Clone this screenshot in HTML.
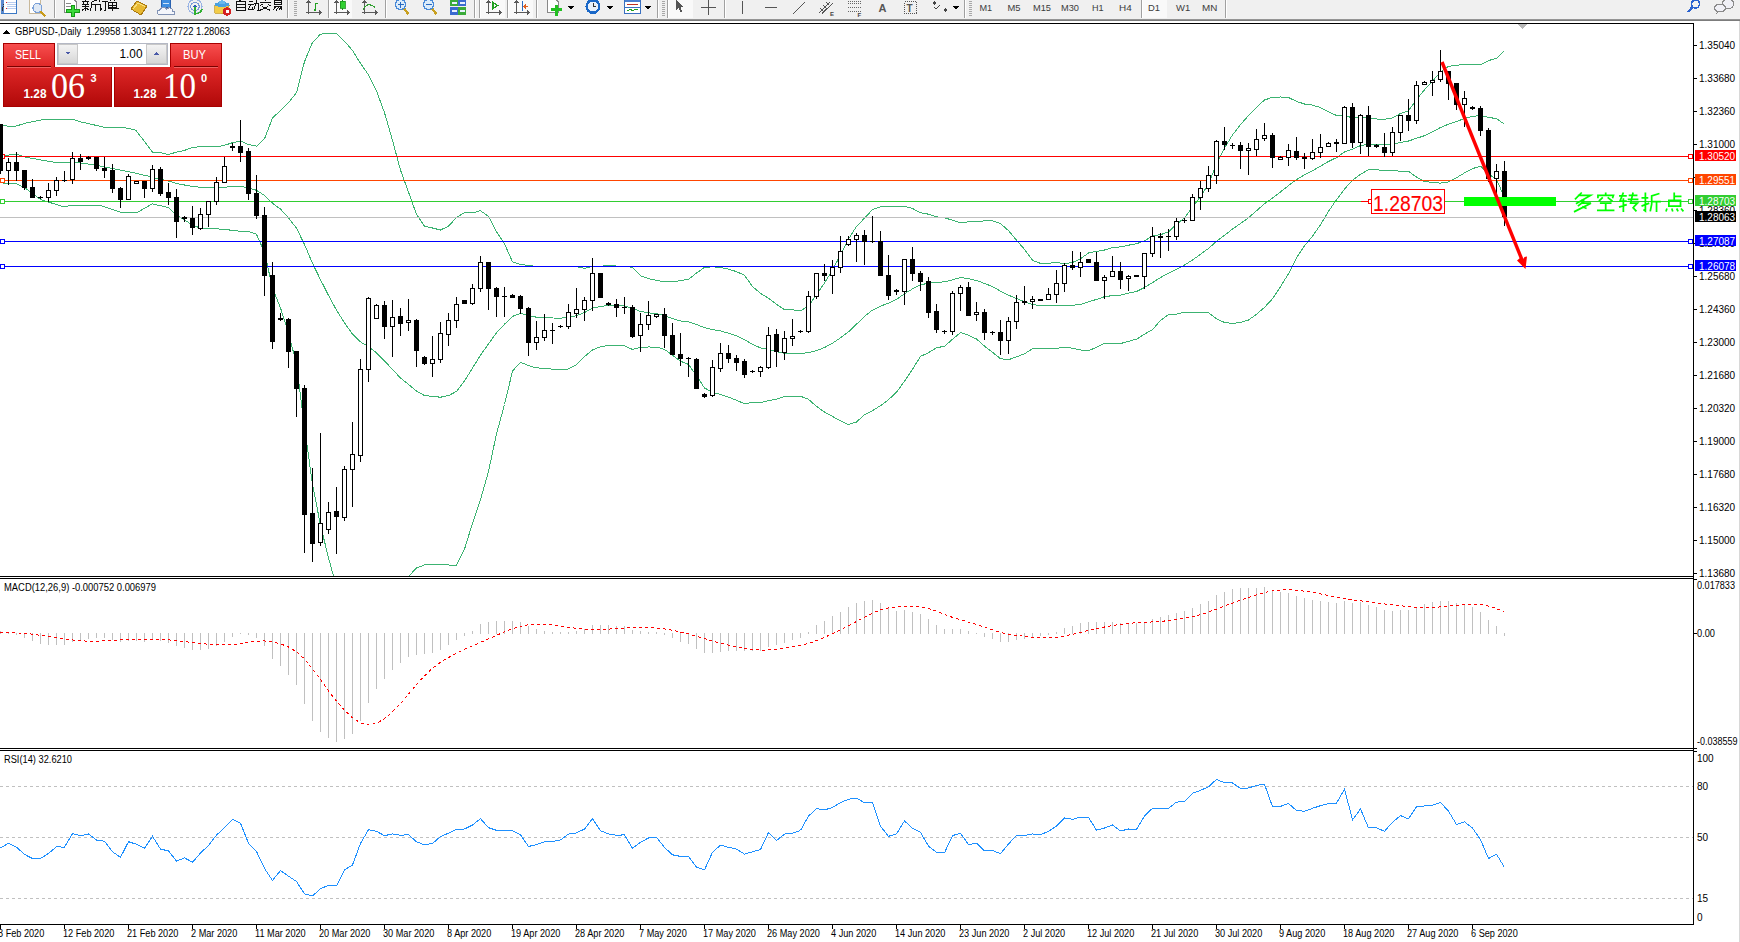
<!DOCTYPE html>
<html><head><meta charset="utf-8">
<style>
html,body{margin:0;padding:0;}
body{width:1740px;height:942px;overflow:hidden;position:relative;background:#fff;font-family:"Liberation Sans",sans-serif;}
.abs{position:absolute;}
svg{position:absolute;left:0;top:0;}
.t{font-family:"Liberation Sans",sans-serif;font-size:10px;fill:#000;}
</style></head><body>
<div class="abs" style="left:0;top:0;width:1740px;height:19px;background:#f0f0f0"></div>
<div class="abs" style="left:0;top:19px;width:1740px;height:2px;background:linear-gradient(#a0a0a0,#707070)"></div>
<div class="abs" style="left:1739px;top:21px;width:1px;height:921px;background:#d8d8d8"></div>
<svg width="1740" height="942" viewBox="0 0 1740 942" shape-rendering="crispEdges">
<line x1="0" y1="23.5" x2="1694" y2="23.5" stroke="#000"/>
<line x1="1693.5" y1="23" x2="1693.5" y2="925" stroke="#000"/>
<line x1="0" y1="576.5" x2="1694" y2="576.5" stroke="#000"/>
<line x1="0" y1="578.5" x2="1694" y2="578.5" stroke="#000"/>
<line x1="0" y1="748.5" x2="1694" y2="748.5" stroke="#000"/>
<line x1="0" y1="750.5" x2="1694" y2="750.5" stroke="#000"/>
<line x1="0" y1="924.5" x2="1694" y2="924.5" stroke="#000"/>
<svg x="0" y="24" width="1693" height="552" viewBox="0 24 1693 552" overflow="hidden">
<polyline points="0.5,125.4 14.1,126.7 26.9,122.7 44.5,119.4 73.3,119.4 80.5,121.8 103.7,127.1 124.5,127.7 135.7,130.1 150.1,148.8 152.5,152.2 160.5,152.7 168.5,154.5 176.5,152.1 184.5,150.4 192.5,147.5 200.5,146.7 208.5,146.8 216.5,147.0 224.5,145.3 232.5,142.7 240.5,141.1 248.5,144.5 256.5,146.2 264.5,138.8 272.5,118.1 280.5,110.4 288.5,102.6 296.5,92.6 304.5,61.7 312.5,42.3 320.5,34.2 328.5,33.2 336.5,33.4 344.5,41.2 352.5,50.5 360.5,63.4 368.5,74.9 376.5,90.8 384.5,112.7 392.5,140.4 400.5,170.2 408.5,192.2 416.5,214.3 424.5,226.1 432.5,228.0 440.5,230.0 448.5,226.2 456.5,217.4 464.5,212.5 472.5,212.9 480.5,210.7 488.5,216.4 496.5,231.7 504.5,243.9 512.5,261.8 520.5,264.4 528.5,265.5 536.5,266.5 544.5,266.5 552.5,266.8 560.5,266.9 568.5,266.4 576.5,266.6 584.5,268.3 592.5,266.4 600.5,266.1 608.5,265.8 616.5,266.0 624.5,266.2 632.5,267.3 640.5,275.7 648.5,278.6 656.5,280.3 664.5,281.9 672.5,281.8 680.5,280.7 688.5,279.2 696.5,273.1 704.5,267.4 712.5,266.8 720.5,267.4 728.5,269.2 736.5,271.6 744.5,275.3 752.5,286.5 760.5,293.4 768.5,298.2 776.5,304.2 784.5,309.8 792.5,309.8 800.5,310.9 808.5,305.9 816.5,294.7 824.5,283.0 832.5,270.0 840.5,254.8 848.5,239.1 856.5,226.3 864.5,218.2 872.5,209.6 880.5,206.8 888.5,206.5 896.5,206.7 904.5,206.2 912.5,208.5 920.5,212.7 928.5,214.2 936.5,216.9 944.5,217.7 952.5,220.3 960.5,222.8 968.5,221.8 976.5,222.0 984.5,220.7 992.5,220.9 1000.5,223.5 1008.5,230.7 1016.5,240.2 1024.5,249.4 1032.5,260.3 1040.5,263.4 1048.5,263.3 1056.5,262.3 1064.5,263.8 1072.5,262.5 1080.5,258.7 1088.5,253.0 1096.5,251.4 1104.5,250.0 1112.5,247.6 1120.5,246.9 1128.5,245.2 1136.5,243.7 1144.5,240.9 1152.5,235.8 1160.5,234.7 1168.5,231.8 1176.5,224.3 1184.5,218.0 1192.5,207.1 1200.5,196.4 1208.5,184.0 1216.5,163.8 1224.5,148.1 1232.5,134.9 1240.5,124.7 1248.5,115.6 1256.5,107.3 1264.5,100.0 1272.5,97.3 1280.5,97.0 1288.5,97.5 1296.5,101.4 1304.5,104.0 1312.5,105.1 1320.5,107.6 1328.5,111.7 1336.5,115.5 1344.5,114.8 1352.5,118.3 1360.5,116.8 1368.5,118.7 1376.5,119.0 1384.5,119.2 1392.5,118.0 1400.5,113.5 1408.5,110.8 1416.5,99.5 1424.5,89.8 1432.5,81.1 1440.5,71.9 1448.5,66.4 1456.5,65.3 1464.5,64.2 1472.5,64.1 1480.5,64.8 1488.5,60.6 1496.5,58.3 1504.5,50.6" fill="none" stroke="#3cb371" stroke-width="1" shape-rendering="crispEdges"/>
<polyline points="0.5,156.1 16.5,154.1 26.9,157.5 54.1,162.2 73.3,162.2 94.1,164.8 114.1,168.9 134.1,172.9 150.1,176.5 152.5,178.1 160.5,179.2 168.5,181.0 176.5,183.5 184.5,185.0 192.5,186.5 200.5,187.3 208.5,187.9 216.5,188.0 224.5,187.2 232.5,186.6 240.5,186.2 248.5,187.9 256.5,190.3 264.5,195.5 272.5,203.2 280.5,209.1 288.5,217.9 296.5,228.2 304.5,244.5 312.5,263.2 320.5,279.7 328.5,295.4 336.5,310.2 344.5,322.8 352.5,334.1 360.5,341.9 368.5,346.7 376.5,352.9 384.5,360.9 392.5,369.5 400.5,378.0 408.5,384.4 416.5,391.1 424.5,395.5 432.5,396.4 440.5,397.2 448.5,395.6 456.5,391.4 464.5,380.9 472.5,368.1 480.5,355.1 488.5,343.9 496.5,332.8 504.5,324.2 512.5,316.4 520.5,313.4 528.5,315.6 536.5,317.2 544.5,317.4 552.5,318.0 560.5,318.1 568.5,317.7 576.5,315.7 584.5,312.5 592.5,308.2 600.5,306.4 608.5,305.6 616.5,305.8 624.5,306.0 632.5,308.4 640.5,311.5 648.5,312.8 656.5,313.7 664.5,315.7 672.5,318.5 680.5,321.0 688.5,321.8 696.5,324.4 704.5,327.7 712.5,329.5 720.5,330.9 728.5,333.2 736.5,335.9 744.5,339.6 752.5,344.4 760.5,347.9 768.5,349.5 776.5,351.7 784.5,353.2 792.5,353.2 800.5,353.5 808.5,352.6 816.5,350.6 824.5,347.5 832.5,343.2 840.5,337.8 848.5,331.8 856.5,324.2 864.5,316.4 872.5,310.1 880.5,306.2 888.5,303.1 896.5,299.5 904.5,293.7 912.5,288.9 920.5,284.6 928.5,283.4 936.5,282.3 944.5,281.9 952.5,279.8 960.5,277.6 968.5,278.6 976.5,280.5 984.5,283.4 992.5,286.6 1000.5,291.1 1008.5,295.2 1016.5,298.5 1024.5,301.6 1032.5,304.5 1040.5,305.7 1048.5,305.7 1056.5,305.3 1064.5,305.6 1072.5,305.3 1080.5,304.4 1088.5,301.9 1096.5,299.4 1104.5,296.7 1112.5,295.6 1120.5,295.2 1128.5,293.2 1136.5,291.5 1144.5,287.5 1152.5,282.7 1160.5,277.5 1168.5,273.3 1176.5,269.2 1184.5,265.1 1192.5,260.0 1200.5,254.3 1208.5,248.4 1216.5,241.3 1224.5,235.3 1232.5,229.1 1240.5,223.5 1248.5,217.8 1256.5,210.8 1264.5,203.7 1272.5,198.0 1280.5,191.9 1288.5,185.6 1296.5,179.6 1304.5,174.9 1312.5,170.7 1320.5,166.2 1328.5,161.5 1336.5,157.6 1344.5,152.0 1352.5,149.2 1360.5,145.6 1368.5,144.1 1376.5,144.4 1384.5,144.8 1392.5,144.2 1400.5,142.4 1408.5,141.0 1416.5,138.3 1424.5,135.7 1432.5,131.8 1440.5,127.5 1448.5,124.2 1456.5,121.5 1464.5,118.5 1472.5,116.4 1480.5,115.5 1488.5,117.3 1496.5,118.7 1504.5,124.2" fill="none" stroke="#3cb371" stroke-width="1" shape-rendering="crispEdges"/>
<polyline points="0.5,182.9 16.5,183.6 24.5,187.6 40.5,199.6 62.1,206.3 76.5,205.6 100.5,205.6 120.5,212.3 136.5,213.0 150.1,205.0 152.5,203.9 160.5,205.7 168.5,207.5 176.5,215.0 184.5,219.7 192.5,225.5 200.5,227.9 208.5,228.9 216.5,228.9 224.5,229.2 232.5,230.5 240.5,231.2 248.5,231.3 256.5,234.3 264.5,252.2 272.5,288.3 280.5,307.9 288.5,333.2 296.5,363.9 304.5,427.4 312.5,484.2 320.5,525.2 328.5,557.7 336.5,587.0 344.5,604.5 352.5,617.8 360.5,620.4 368.5,618.6 376.5,615.0 384.5,609.1 392.5,598.5 400.5,585.9 408.5,576.5 416.5,568.0 424.5,564.9 432.5,564.8 440.5,564.3 448.5,565.0 456.5,565.4 464.5,549.2 472.5,523.3 480.5,499.4 488.5,471.4 496.5,433.9 504.5,404.5 512.5,371.0 520.5,362.3 528.5,365.6 536.5,367.9 544.5,368.3 552.5,369.2 560.5,369.4 568.5,369.0 576.5,364.8 584.5,356.7 592.5,349.9 600.5,346.7 608.5,345.4 616.5,345.6 624.5,345.8 632.5,349.5 640.5,347.2 648.5,347.0 656.5,347.1 664.5,349.4 672.5,355.2 680.5,361.2 688.5,364.4 696.5,375.7 704.5,388.0 712.5,392.3 720.5,394.4 728.5,397.2 736.5,400.2 744.5,403.8 752.5,402.4 760.5,402.5 768.5,400.7 776.5,399.2 784.5,396.6 792.5,396.6 800.5,396.2 808.5,399.3 816.5,406.4 824.5,412.1 832.5,416.4 840.5,420.9 848.5,424.6 856.5,422.0 864.5,414.6 872.5,410.6 880.5,405.7 888.5,399.7 896.5,392.2 904.5,381.2 912.5,369.2 920.5,356.4 928.5,352.7 936.5,347.8 944.5,346.2 952.5,339.3 960.5,332.5 968.5,335.3 976.5,339.0 984.5,346.1 992.5,352.3 1000.5,358.7 1008.5,359.7 1016.5,356.9 1024.5,353.8 1032.5,348.7 1040.5,348.1 1048.5,348.1 1056.5,348.3 1064.5,347.4 1072.5,348.1 1080.5,350.0 1088.5,350.7 1096.5,347.4 1104.5,343.4 1112.5,343.6 1120.5,343.6 1128.5,341.3 1136.5,339.2 1144.5,334.1 1152.5,329.6 1160.5,320.4 1168.5,314.7 1176.5,314.2 1184.5,312.2 1192.5,312.8 1200.5,312.3 1208.5,312.8 1216.5,318.8 1224.5,322.5 1232.5,323.4 1240.5,322.4 1248.5,320.1 1256.5,314.2 1264.5,307.4 1272.5,298.7 1280.5,286.7 1288.5,273.7 1296.5,257.8 1304.5,245.8 1312.5,236.2 1320.5,224.8 1328.5,211.4 1336.5,199.7 1344.5,189.1 1352.5,180.2 1360.5,174.4 1368.5,169.6 1376.5,169.8 1384.5,170.5 1392.5,170.4 1400.5,171.3 1408.5,171.3 1416.5,177.1 1424.5,181.5 1432.5,182.4 1440.5,183.1 1448.5,181.9 1456.5,177.7 1464.5,172.9 1472.5,168.6 1480.5,166.2 1488.5,174.0 1496.5,179.1 1504.5,197.9" fill="none" stroke="#3cb371" stroke-width="1" shape-rendering="crispEdges"/>
<line x1="0" y1="217.5" x2="1693" y2="217.5" stroke="#c0c0c0" stroke-width="1" />
<line x1="0" y1="156.5" x2="1693" y2="156.5" stroke="#ff0000" stroke-width="1" />
<rect x="0.5" y="154.5" width="4" height="4" fill="#fff" stroke="#ff0000" stroke-width="1"/>
<rect x="1688.5" y="154.5" width="4" height="4" fill="#fff" stroke="#ff0000" stroke-width="1"/>
<line x1="0" y1="180.5" x2="1693" y2="180.5" stroke="#ff4500" stroke-width="1" />
<rect x="0.5" y="178.5" width="4" height="4" fill="#fff" stroke="#ff4500" stroke-width="1"/>
<rect x="1688.5" y="178.5" width="4" height="4" fill="#fff" stroke="#ff4500" stroke-width="1"/>
<line x1="0" y1="201.5" x2="1693" y2="201.5" stroke="#32cd32" stroke-width="1" />
<rect x="0.5" y="199.5" width="4" height="4" fill="#fff" stroke="#32cd32" stroke-width="1"/>
<rect x="1688.5" y="199.5" width="4" height="4" fill="#fff" stroke="#32cd32" stroke-width="1"/>
<line x1="0" y1="241.5" x2="1693" y2="241.5" stroke="#0000ff" stroke-width="1" />
<rect x="0.5" y="239.5" width="4" height="4" fill="#fff" stroke="#0000ff" stroke-width="1"/>
<rect x="1688.5" y="239.5" width="4" height="4" fill="#fff" stroke="#0000ff" stroke-width="1"/>
<line x1="0" y1="266.5" x2="1693" y2="266.5" stroke="#0000ff" stroke-width="1" />
<rect x="0.5" y="264.5" width="4" height="4" fill="#fff" stroke="#0000ff" stroke-width="1"/>
<rect x="1688.5" y="264.5" width="4" height="4" fill="#fff" stroke="#0000ff" stroke-width="1"/>
<line x1="0.5" y1="124" x2="0.5" y2="174" stroke="#000" stroke-width="1"/>
<rect x="-2" y="124" width="5" height="47" fill="#000"/>
<line x1="8.5" y1="158" x2="8.5" y2="185" stroke="#000" stroke-width="1"/>
<rect x="6.5" y="162.5" width="4" height="8" fill="#fff" stroke="#000" stroke-width="1"/>
<line x1="16.5" y1="152" x2="16.5" y2="181" stroke="#000" stroke-width="1"/>
<rect x="14" y="162" width="5" height="9" fill="#000"/>
<line x1="24.5" y1="170" x2="24.5" y2="190" stroke="#000" stroke-width="1"/>
<rect x="22" y="170" width="5" height="18" fill="#000"/>
<line x1="32.5" y1="179" x2="32.5" y2="198" stroke="#000" stroke-width="1"/>
<rect x="30" y="187" width="5" height="11" fill="#000"/>
<line x1="40.5" y1="196" x2="40.5" y2="199" stroke="#000" stroke-width="1"/>
<rect x="38" y="197" width="5" height="1" fill="#000"/>
<line x1="48.5" y1="183" x2="48.5" y2="202" stroke="#000" stroke-width="1"/>
<rect x="46.5" y="190.5" width="4" height="7" fill="#fff" stroke="#000" stroke-width="1"/>
<line x1="56.5" y1="177" x2="56.5" y2="196" stroke="#000" stroke-width="1"/>
<rect x="54.5" y="180.5" width="4" height="10" fill="#fff" stroke="#000" stroke-width="1"/>
<line x1="64.5" y1="171" x2="64.5" y2="182" stroke="#000" stroke-width="1"/>
<rect x="62" y="180" width="5" height="1" fill="#000"/>
<line x1="72.5" y1="152" x2="72.5" y2="184" stroke="#000" stroke-width="1"/>
<rect x="70.5" y="158.5" width="4" height="21" fill="#fff" stroke="#000" stroke-width="1"/>
<line x1="80.5" y1="154" x2="80.5" y2="170" stroke="#000" stroke-width="1"/>
<rect x="78" y="158" width="5" height="4" fill="#000"/>
<line x1="88.5" y1="156" x2="88.5" y2="160" stroke="#000" stroke-width="1"/>
<rect x="86" y="157" width="5" height="2" fill="#000"/>
<line x1="96.5" y1="157" x2="96.5" y2="171" stroke="#000" stroke-width="1"/>
<rect x="94" y="157" width="5" height="12" fill="#000"/>
<line x1="104.5" y1="157" x2="104.5" y2="178" stroke="#000" stroke-width="1"/>
<rect x="102" y="168" width="5" height="3" fill="#000"/>
<line x1="112.5" y1="164" x2="112.5" y2="193" stroke="#000" stroke-width="1"/>
<rect x="110" y="170" width="5" height="19" fill="#000"/>
<line x1="120.5" y1="187" x2="120.5" y2="208" stroke="#000" stroke-width="1"/>
<rect x="118" y="188" width="5" height="12" fill="#000"/>
<line x1="128.5" y1="174" x2="128.5" y2="200" stroke="#000" stroke-width="1"/>
<rect x="126.5" y="176.5" width="4" height="23" fill="#fff" stroke="#000" stroke-width="1"/>
<line x1="136.5" y1="181" x2="136.5" y2="184" stroke="#000" stroke-width="1"/>
<rect x="134.5" y="181.5" width="4" height="2" fill="#fff" stroke="#000" stroke-width="1"/>
<line x1="144.5" y1="181" x2="144.5" y2="198" stroke="#000" stroke-width="1"/>
<rect x="142" y="181" width="5" height="8" fill="#000"/>
<line x1="152.5" y1="165" x2="152.5" y2="192" stroke="#000" stroke-width="1"/>
<rect x="150.5" y="169.5" width="4" height="19" fill="#fff" stroke="#000" stroke-width="1"/>
<line x1="160.5" y1="167" x2="160.5" y2="196" stroke="#000" stroke-width="1"/>
<rect x="158" y="169" width="5" height="25" fill="#000"/>
<line x1="168.5" y1="183" x2="168.5" y2="205" stroke="#000" stroke-width="1"/>
<rect x="166" y="192" width="5" height="6" fill="#000"/>
<line x1="176.5" y1="189" x2="176.5" y2="238" stroke="#000" stroke-width="1"/>
<rect x="174" y="197" width="5" height="25" fill="#000"/>
<line x1="184.5" y1="216" x2="184.5" y2="222" stroke="#000" stroke-width="1"/>
<rect x="182.5" y="217.5" width="4" height="1" fill="#fff" stroke="#000" stroke-width="1"/>
<line x1="192.5" y1="206" x2="192.5" y2="235" stroke="#000" stroke-width="1"/>
<rect x="190" y="218" width="5" height="10" fill="#000"/>
<line x1="200.5" y1="208" x2="200.5" y2="230" stroke="#000" stroke-width="1"/>
<rect x="198.5" y="214.5" width="4" height="14" fill="#fff" stroke="#000" stroke-width="1"/>
<line x1="208.5" y1="201" x2="208.5" y2="227" stroke="#000" stroke-width="1"/>
<rect x="206.5" y="201.5" width="4" height="13" fill="#fff" stroke="#000" stroke-width="1"/>
<line x1="216.5" y1="177" x2="216.5" y2="205" stroke="#000" stroke-width="1"/>
<rect x="214.5" y="182.5" width="4" height="19" fill="#fff" stroke="#000" stroke-width="1"/>
<line x1="224.5" y1="157" x2="224.5" y2="183" stroke="#000" stroke-width="1"/>
<rect x="222.5" y="166.5" width="4" height="16" fill="#fff" stroke="#000" stroke-width="1"/>
<line x1="232.5" y1="143" x2="232.5" y2="151" stroke="#000" stroke-width="1"/>
<rect x="230.5" y="146.5" width="4" height="1" fill="#fff" stroke="#000" stroke-width="1"/>
<line x1="240.5" y1="120" x2="240.5" y2="162" stroke="#000" stroke-width="1"/>
<rect x="238" y="146" width="5" height="7" fill="#000"/>
<line x1="248.5" y1="148" x2="248.5" y2="200" stroke="#000" stroke-width="1"/>
<rect x="246" y="151" width="5" height="43" fill="#000"/>
<line x1="256.5" y1="175" x2="256.5" y2="219" stroke="#000" stroke-width="1"/>
<rect x="254" y="193" width="5" height="23" fill="#000"/>
<line x1="264.5" y1="207" x2="264.5" y2="296" stroke="#000" stroke-width="1"/>
<rect x="262" y="215" width="5" height="61" fill="#000"/>
<line x1="272.5" y1="262" x2="272.5" y2="349" stroke="#000" stroke-width="1"/>
<rect x="270" y="275" width="5" height="67" fill="#000"/>
<line x1="280.5" y1="313" x2="280.5" y2="321" stroke="#000" stroke-width="1"/>
<rect x="278.5" y="318.5" width="4" height="1" fill="#fff" stroke="#000" stroke-width="1"/>
<line x1="288.5" y1="318" x2="288.5" y2="368" stroke="#000" stroke-width="1"/>
<rect x="286" y="319" width="5" height="33" fill="#000"/>
<line x1="296.5" y1="351" x2="296.5" y2="417" stroke="#000" stroke-width="1"/>
<rect x="294" y="351" width="5" height="38" fill="#000"/>
<line x1="304.5" y1="385" x2="304.5" y2="553" stroke="#000" stroke-width="1"/>
<rect x="302" y="388" width="5" height="127" fill="#000"/>
<line x1="312.5" y1="468" x2="312.5" y2="562" stroke="#000" stroke-width="1"/>
<rect x="310" y="513" width="5" height="31" fill="#000"/>
<line x1="320.5" y1="433" x2="320.5" y2="546" stroke="#000" stroke-width="1"/>
<rect x="318.5" y="523.5" width="4" height="19" fill="#fff" stroke="#000" stroke-width="1"/>
<line x1="328.5" y1="502" x2="328.5" y2="534" stroke="#000" stroke-width="1"/>
<rect x="326.5" y="512.5" width="4" height="17" fill="#fff" stroke="#000" stroke-width="1"/>
<line x1="336.5" y1="487" x2="336.5" y2="554" stroke="#000" stroke-width="1"/>
<rect x="334" y="511" width="5" height="6" fill="#000"/>
<line x1="344.5" y1="466" x2="344.5" y2="521" stroke="#000" stroke-width="1"/>
<rect x="342.5" y="469.5" width="4" height="48" fill="#fff" stroke="#000" stroke-width="1"/>
<line x1="352.5" y1="422" x2="352.5" y2="507" stroke="#000" stroke-width="1"/>
<rect x="350.5" y="454.5" width="4" height="15" fill="#fff" stroke="#000" stroke-width="1"/>
<line x1="360.5" y1="359" x2="360.5" y2="462" stroke="#000" stroke-width="1"/>
<rect x="358.5" y="369.5" width="4" height="86" fill="#fff" stroke="#000" stroke-width="1"/>
<line x1="368.5" y1="297" x2="368.5" y2="382" stroke="#000" stroke-width="1"/>
<rect x="366.5" y="298.5" width="4" height="71" fill="#fff" stroke="#000" stroke-width="1"/>
<line x1="376.5" y1="304" x2="376.5" y2="319" stroke="#000" stroke-width="1"/>
<rect x="374.5" y="305.5" width="4" height="13" fill="#fff" stroke="#000" stroke-width="1"/>
<line x1="384.5" y1="301" x2="384.5" y2="339" stroke="#000" stroke-width="1"/>
<rect x="382" y="305" width="5" height="22" fill="#000"/>
<line x1="392.5" y1="300" x2="392.5" y2="357" stroke="#000" stroke-width="1"/>
<rect x="390.5" y="317.5" width="4" height="9" fill="#fff" stroke="#000" stroke-width="1"/>
<line x1="400.5" y1="308" x2="400.5" y2="336" stroke="#000" stroke-width="1"/>
<rect x="398" y="316" width="5" height="8" fill="#000"/>
<line x1="408.5" y1="299" x2="408.5" y2="331" stroke="#000" stroke-width="1"/>
<rect x="406.5" y="320.5" width="4" height="2" fill="#fff" stroke="#000" stroke-width="1"/>
<line x1="416.5" y1="319" x2="416.5" y2="367" stroke="#000" stroke-width="1"/>
<rect x="414" y="320" width="5" height="31" fill="#000"/>
<line x1="424.5" y1="356" x2="424.5" y2="365" stroke="#000" stroke-width="1"/>
<rect x="422" y="357" width="5" height="7" fill="#000"/>
<line x1="432.5" y1="336" x2="432.5" y2="377" stroke="#000" stroke-width="1"/>
<rect x="430.5" y="359.5" width="4" height="4" fill="#fff" stroke="#000" stroke-width="1"/>
<line x1="440.5" y1="322" x2="440.5" y2="363" stroke="#000" stroke-width="1"/>
<rect x="438.5" y="333.5" width="4" height="26" fill="#fff" stroke="#000" stroke-width="1"/>
<line x1="448.5" y1="313" x2="448.5" y2="346" stroke="#000" stroke-width="1"/>
<rect x="446.5" y="320.5" width="4" height="14" fill="#fff" stroke="#000" stroke-width="1"/>
<line x1="456.5" y1="297" x2="456.5" y2="328" stroke="#000" stroke-width="1"/>
<rect x="454.5" y="304.5" width="4" height="16" fill="#fff" stroke="#000" stroke-width="1"/>
<line x1="464.5" y1="300" x2="464.5" y2="304" stroke="#000" stroke-width="1"/>
<rect x="462" y="300" width="5" height="4" fill="#000"/>
<line x1="472.5" y1="284" x2="472.5" y2="305" stroke="#000" stroke-width="1"/>
<rect x="470.5" y="288.5" width="4" height="15" fill="#fff" stroke="#000" stroke-width="1"/>
<line x1="480.5" y1="256" x2="480.5" y2="292" stroke="#000" stroke-width="1"/>
<rect x="478.5" y="262.5" width="4" height="26" fill="#fff" stroke="#000" stroke-width="1"/>
<line x1="488.5" y1="262" x2="488.5" y2="310" stroke="#000" stroke-width="1"/>
<rect x="486" y="262" width="5" height="27" fill="#000"/>
<line x1="496.5" y1="287" x2="496.5" y2="317" stroke="#000" stroke-width="1"/>
<rect x="494" y="288" width="5" height="9" fill="#000"/>
<line x1="504.5" y1="287" x2="504.5" y2="317" stroke="#000" stroke-width="1"/>
<rect x="502" y="296" width="5" height="1" fill="#000"/>
<line x1="512.5" y1="294" x2="512.5" y2="298" stroke="#000" stroke-width="1"/>
<rect x="510" y="295" width="5" height="3" fill="#000"/>
<line x1="520.5" y1="295" x2="520.5" y2="314" stroke="#000" stroke-width="1"/>
<rect x="518" y="296" width="5" height="13" fill="#000"/>
<line x1="528.5" y1="307" x2="528.5" y2="356" stroke="#000" stroke-width="1"/>
<rect x="526" y="308" width="5" height="35" fill="#000"/>
<line x1="536.5" y1="321" x2="536.5" y2="350" stroke="#000" stroke-width="1"/>
<rect x="534.5" y="337.5" width="4" height="5" fill="#fff" stroke="#000" stroke-width="1"/>
<line x1="544.5" y1="314" x2="544.5" y2="341" stroke="#000" stroke-width="1"/>
<rect x="542.5" y="330.5" width="4" height="7" fill="#fff" stroke="#000" stroke-width="1"/>
<line x1="552.5" y1="323" x2="552.5" y2="344" stroke="#000" stroke-width="1"/>
<rect x="550" y="330" width="5" height="1" fill="#000"/>
<line x1="560.5" y1="325" x2="560.5" y2="328" stroke="#000" stroke-width="1"/>
<rect x="558" y="326" width="5" height="1" fill="#000"/>
<line x1="568.5" y1="304" x2="568.5" y2="329" stroke="#000" stroke-width="1"/>
<rect x="566.5" y="312.5" width="4" height="14" fill="#fff" stroke="#000" stroke-width="1"/>
<line x1="576.5" y1="288" x2="576.5" y2="318" stroke="#000" stroke-width="1"/>
<rect x="574.5" y="309.5" width="4" height="4" fill="#fff" stroke="#000" stroke-width="1"/>
<line x1="584.5" y1="297" x2="584.5" y2="321" stroke="#000" stroke-width="1"/>
<rect x="582.5" y="300.5" width="4" height="9" fill="#fff" stroke="#000" stroke-width="1"/>
<line x1="592.5" y1="258" x2="592.5" y2="311" stroke="#000" stroke-width="1"/>
<rect x="590.5" y="273.5" width="4" height="27" fill="#fff" stroke="#000" stroke-width="1"/>
<line x1="600.5" y1="273" x2="600.5" y2="298" stroke="#000" stroke-width="1"/>
<rect x="598" y="273" width="5" height="25" fill="#000"/>
<line x1="608.5" y1="302" x2="608.5" y2="306" stroke="#000" stroke-width="1"/>
<rect x="606" y="303" width="5" height="2" fill="#000"/>
<line x1="616.5" y1="299" x2="616.5" y2="317" stroke="#000" stroke-width="1"/>
<rect x="614" y="304" width="5" height="4" fill="#000"/>
<line x1="624.5" y1="297" x2="624.5" y2="314" stroke="#000" stroke-width="1"/>
<rect x="622" y="307" width="5" height="1" fill="#000"/>
<line x1="632.5" y1="305" x2="632.5" y2="338" stroke="#000" stroke-width="1"/>
<rect x="630" y="307" width="5" height="30" fill="#000"/>
<line x1="640.5" y1="313" x2="640.5" y2="352" stroke="#000" stroke-width="1"/>
<rect x="638.5" y="324.5" width="4" height="11" fill="#fff" stroke="#000" stroke-width="1"/>
<line x1="648.5" y1="301" x2="648.5" y2="330" stroke="#000" stroke-width="1"/>
<rect x="646.5" y="315.5" width="4" height="9" fill="#fff" stroke="#000" stroke-width="1"/>
<line x1="656.5" y1="314" x2="656.5" y2="318" stroke="#000" stroke-width="1"/>
<rect x="654.5" y="314.5" width="4" height="2" fill="#fff" stroke="#000" stroke-width="1"/>
<line x1="664.5" y1="308" x2="664.5" y2="348" stroke="#000" stroke-width="1"/>
<rect x="662" y="314" width="5" height="22" fill="#000"/>
<line x1="672.5" y1="323" x2="672.5" y2="355" stroke="#000" stroke-width="1"/>
<rect x="670" y="335" width="5" height="20" fill="#000"/>
<line x1="680.5" y1="333" x2="680.5" y2="366" stroke="#000" stroke-width="1"/>
<rect x="678" y="354" width="5" height="5" fill="#000"/>
<line x1="688.5" y1="357" x2="688.5" y2="377" stroke="#000" stroke-width="1"/>
<rect x="686" y="358" width="5" height="1" fill="#000"/>
<line x1="696.5" y1="358" x2="696.5" y2="389" stroke="#000" stroke-width="1"/>
<rect x="694" y="359" width="5" height="30" fill="#000"/>
<line x1="704.5" y1="393" x2="704.5" y2="398" stroke="#000" stroke-width="1"/>
<rect x="702" y="394" width="5" height="3" fill="#000"/>
<line x1="712.5" y1="360" x2="712.5" y2="397" stroke="#000" stroke-width="1"/>
<rect x="710.5" y="367.5" width="4" height="28" fill="#fff" stroke="#000" stroke-width="1"/>
<line x1="720.5" y1="343" x2="720.5" y2="372" stroke="#000" stroke-width="1"/>
<rect x="718.5" y="353.5" width="4" height="15" fill="#fff" stroke="#000" stroke-width="1"/>
<line x1="728.5" y1="345" x2="728.5" y2="363" stroke="#000" stroke-width="1"/>
<rect x="726" y="353" width="5" height="6" fill="#000"/>
<line x1="736.5" y1="355" x2="736.5" y2="371" stroke="#000" stroke-width="1"/>
<rect x="734" y="358" width="5" height="5" fill="#000"/>
<line x1="744.5" y1="359" x2="744.5" y2="378" stroke="#000" stroke-width="1"/>
<rect x="742" y="361" width="5" height="14" fill="#000"/>
<line x1="752.5" y1="370" x2="752.5" y2="373" stroke="#000" stroke-width="1"/>
<rect x="750" y="371" width="5" height="1" fill="#000"/>
<line x1="760.5" y1="366" x2="760.5" y2="377" stroke="#000" stroke-width="1"/>
<rect x="758.5" y="367.5" width="4" height="4" fill="#fff" stroke="#000" stroke-width="1"/>
<line x1="768.5" y1="327" x2="768.5" y2="369" stroke="#000" stroke-width="1"/>
<rect x="766.5" y="335.5" width="4" height="32" fill="#fff" stroke="#000" stroke-width="1"/>
<line x1="776.5" y1="329" x2="776.5" y2="367" stroke="#000" stroke-width="1"/>
<rect x="774" y="334" width="5" height="18" fill="#000"/>
<line x1="784.5" y1="331" x2="784.5" y2="360" stroke="#000" stroke-width="1"/>
<rect x="782.5" y="338.5" width="4" height="14" fill="#fff" stroke="#000" stroke-width="1"/>
<line x1="792.5" y1="319" x2="792.5" y2="346" stroke="#000" stroke-width="1"/>
<rect x="790.5" y="336.5" width="4" height="2" fill="#fff" stroke="#000" stroke-width="1"/>
<line x1="800.5" y1="330" x2="800.5" y2="333" stroke="#000" stroke-width="1"/>
<rect x="798" y="331" width="5" height="1" fill="#000"/>
<line x1="808.5" y1="291" x2="808.5" y2="333" stroke="#000" stroke-width="1"/>
<rect x="806.5" y="296.5" width="4" height="35" fill="#fff" stroke="#000" stroke-width="1"/>
<line x1="816.5" y1="273" x2="816.5" y2="299" stroke="#000" stroke-width="1"/>
<rect x="814.5" y="273.5" width="4" height="23" fill="#fff" stroke="#000" stroke-width="1"/>
<line x1="824.5" y1="264" x2="824.5" y2="281" stroke="#000" stroke-width="1"/>
<rect x="822" y="273" width="5" height="3" fill="#000"/>
<line x1="832.5" y1="260" x2="832.5" y2="294" stroke="#000" stroke-width="1"/>
<rect x="830.5" y="267.5" width="4" height="8" fill="#fff" stroke="#000" stroke-width="1"/>
<line x1="840.5" y1="236" x2="840.5" y2="273" stroke="#000" stroke-width="1"/>
<rect x="838.5" y="251.5" width="4" height="16" fill="#fff" stroke="#000" stroke-width="1"/>
<line x1="848.5" y1="236" x2="848.5" y2="246" stroke="#000" stroke-width="1"/>
<rect x="846.5" y="239.5" width="4" height="5" fill="#fff" stroke="#000" stroke-width="1"/>
<line x1="856.5" y1="233" x2="856.5" y2="262" stroke="#000" stroke-width="1"/>
<rect x="854.5" y="235.5" width="4" height="4" fill="#fff" stroke="#000" stroke-width="1"/>
<line x1="864.5" y1="230" x2="864.5" y2="265" stroke="#000" stroke-width="1"/>
<rect x="862" y="235" width="5" height="7" fill="#000"/>
<line x1="872.5" y1="216" x2="872.5" y2="243" stroke="#000" stroke-width="1"/>
<rect x="870" y="241" width="5" height="1" fill="#000"/>
<line x1="880.5" y1="231" x2="880.5" y2="276" stroke="#000" stroke-width="1"/>
<rect x="878" y="241" width="5" height="35" fill="#000"/>
<line x1="888.5" y1="255" x2="888.5" y2="300" stroke="#000" stroke-width="1"/>
<rect x="886" y="275" width="5" height="21" fill="#000"/>
<line x1="896.5" y1="289" x2="896.5" y2="295" stroke="#000" stroke-width="1"/>
<rect x="894.5" y="290.5" width="4" height="1" fill="#fff" stroke="#000" stroke-width="1"/>
<line x1="904.5" y1="259" x2="904.5" y2="305" stroke="#000" stroke-width="1"/>
<rect x="902.5" y="259.5" width="4" height="32" fill="#fff" stroke="#000" stroke-width="1"/>
<line x1="912.5" y1="247" x2="912.5" y2="281" stroke="#000" stroke-width="1"/>
<rect x="910" y="259" width="5" height="15" fill="#000"/>
<line x1="920.5" y1="271" x2="920.5" y2="291" stroke="#000" stroke-width="1"/>
<rect x="918" y="273" width="5" height="9" fill="#000"/>
<line x1="928.5" y1="277" x2="928.5" y2="318" stroke="#000" stroke-width="1"/>
<rect x="926" y="281" width="5" height="32" fill="#000"/>
<line x1="936.5" y1="304" x2="936.5" y2="333" stroke="#000" stroke-width="1"/>
<rect x="934" y="311" width="5" height="19" fill="#000"/>
<line x1="944.5" y1="330" x2="944.5" y2="334" stroke="#000" stroke-width="1"/>
<rect x="942" y="331" width="5" height="1" fill="#000"/>
<line x1="952.5" y1="291" x2="952.5" y2="335" stroke="#000" stroke-width="1"/>
<rect x="950.5" y="293.5" width="4" height="38" fill="#fff" stroke="#000" stroke-width="1"/>
<line x1="960.5" y1="285" x2="960.5" y2="311" stroke="#000" stroke-width="1"/>
<rect x="958.5" y="287.5" width="4" height="6" fill="#fff" stroke="#000" stroke-width="1"/>
<line x1="968.5" y1="282" x2="968.5" y2="316" stroke="#000" stroke-width="1"/>
<rect x="966" y="287" width="5" height="29" fill="#000"/>
<line x1="976.5" y1="302" x2="976.5" y2="321" stroke="#000" stroke-width="1"/>
<rect x="974.5" y="312.5" width="4" height="2" fill="#fff" stroke="#000" stroke-width="1"/>
<line x1="984.5" y1="309" x2="984.5" y2="340" stroke="#000" stroke-width="1"/>
<rect x="982" y="312" width="5" height="21" fill="#000"/>
<line x1="992.5" y1="331" x2="992.5" y2="335" stroke="#000" stroke-width="1"/>
<rect x="990" y="332" width="5" height="1" fill="#000"/>
<line x1="1000.5" y1="320" x2="1000.5" y2="355" stroke="#000" stroke-width="1"/>
<rect x="998" y="332" width="5" height="9" fill="#000"/>
<line x1="1008.5" y1="317" x2="1008.5" y2="354" stroke="#000" stroke-width="1"/>
<rect x="1006.5" y="321.5" width="4" height="19" fill="#fff" stroke="#000" stroke-width="1"/>
<line x1="1016.5" y1="295" x2="1016.5" y2="329" stroke="#000" stroke-width="1"/>
<rect x="1014.5" y="302.5" width="4" height="19" fill="#fff" stroke="#000" stroke-width="1"/>
<line x1="1024.5" y1="286" x2="1024.5" y2="305" stroke="#000" stroke-width="1"/>
<rect x="1022" y="301" width="5" height="2" fill="#000"/>
<line x1="1032.5" y1="296" x2="1032.5" y2="309" stroke="#000" stroke-width="1"/>
<rect x="1030.5" y="299.5" width="4" height="2" fill="#fff" stroke="#000" stroke-width="1"/>
<line x1="1040.5" y1="299" x2="1040.5" y2="301" stroke="#000" stroke-width="1"/>
<rect x="1038" y="299" width="5" height="2" fill="#000"/>
<line x1="1048.5" y1="288" x2="1048.5" y2="300" stroke="#000" stroke-width="1"/>
<rect x="1046.5" y="294.5" width="4" height="5" fill="#fff" stroke="#000" stroke-width="1"/>
<line x1="1056.5" y1="270" x2="1056.5" y2="303" stroke="#000" stroke-width="1"/>
<rect x="1054.5" y="283.5" width="4" height="11" fill="#fff" stroke="#000" stroke-width="1"/>
<line x1="1064.5" y1="263" x2="1064.5" y2="292" stroke="#000" stroke-width="1"/>
<rect x="1062.5" y="265.5" width="4" height="18" fill="#fff" stroke="#000" stroke-width="1"/>
<line x1="1072.5" y1="251" x2="1072.5" y2="270" stroke="#000" stroke-width="1"/>
<rect x="1070" y="265" width="5" height="3" fill="#000"/>
<line x1="1080.5" y1="252" x2="1080.5" y2="277" stroke="#000" stroke-width="1"/>
<rect x="1078.5" y="262.5" width="4" height="5" fill="#fff" stroke="#000" stroke-width="1"/>
<line x1="1088.5" y1="259" x2="1088.5" y2="263" stroke="#000" stroke-width="1"/>
<rect x="1086" y="259" width="5" height="4" fill="#000"/>
<line x1="1096.5" y1="252" x2="1096.5" y2="281" stroke="#000" stroke-width="1"/>
<rect x="1094" y="262" width="5" height="19" fill="#000"/>
<line x1="1104.5" y1="275" x2="1104.5" y2="299" stroke="#000" stroke-width="1"/>
<rect x="1102.5" y="277.5" width="4" height="3" fill="#fff" stroke="#000" stroke-width="1"/>
<line x1="1112.5" y1="256" x2="1112.5" y2="277" stroke="#000" stroke-width="1"/>
<rect x="1110.5" y="271.5" width="4" height="5" fill="#fff" stroke="#000" stroke-width="1"/>
<line x1="1120.5" y1="262" x2="1120.5" y2="289" stroke="#000" stroke-width="1"/>
<rect x="1118" y="271" width="5" height="9" fill="#000"/>
<line x1="1128.5" y1="275" x2="1128.5" y2="291" stroke="#000" stroke-width="1"/>
<rect x="1126.5" y="276.5" width="4" height="2" fill="#fff" stroke="#000" stroke-width="1"/>
<line x1="1136.5" y1="275" x2="1136.5" y2="277" stroke="#000" stroke-width="1"/>
<rect x="1134" y="275" width="5" height="2" fill="#000"/>
<line x1="1144.5" y1="253" x2="1144.5" y2="289" stroke="#000" stroke-width="1"/>
<rect x="1142.5" y="253.5" width="4" height="23" fill="#fff" stroke="#000" stroke-width="1"/>
<line x1="1152.5" y1="227" x2="1152.5" y2="257" stroke="#000" stroke-width="1"/>
<rect x="1150.5" y="236.5" width="4" height="17" fill="#fff" stroke="#000" stroke-width="1"/>
<line x1="1160.5" y1="233" x2="1160.5" y2="258" stroke="#000" stroke-width="1"/>
<rect x="1158" y="236" width="5" height="2" fill="#000"/>
<line x1="1168.5" y1="229" x2="1168.5" y2="251" stroke="#000" stroke-width="1"/>
<rect x="1166" y="236" width="5" height="1" fill="#000"/>
<line x1="1176.5" y1="218" x2="1176.5" y2="240" stroke="#000" stroke-width="1"/>
<rect x="1174.5" y="221.5" width="4" height="15" fill="#fff" stroke="#000" stroke-width="1"/>
<line x1="1184.5" y1="218" x2="1184.5" y2="223" stroke="#000" stroke-width="1"/>
<rect x="1182" y="220" width="5" height="1" fill="#000"/>
<line x1="1192.5" y1="194" x2="1192.5" y2="221" stroke="#000" stroke-width="1"/>
<rect x="1190.5" y="197.5" width="4" height="23" fill="#fff" stroke="#000" stroke-width="1"/>
<line x1="1200.5" y1="181" x2="1200.5" y2="210" stroke="#000" stroke-width="1"/>
<rect x="1198.5" y="188.5" width="4" height="9" fill="#fff" stroke="#000" stroke-width="1"/>
<line x1="1208.5" y1="166" x2="1208.5" y2="192" stroke="#000" stroke-width="1"/>
<rect x="1206.5" y="175.5" width="4" height="13" fill="#fff" stroke="#000" stroke-width="1"/>
<line x1="1216.5" y1="140" x2="1216.5" y2="184" stroke="#000" stroke-width="1"/>
<rect x="1214.5" y="141.5" width="4" height="34" fill="#fff" stroke="#000" stroke-width="1"/>
<line x1="1224.5" y1="127" x2="1224.5" y2="150" stroke="#000" stroke-width="1"/>
<rect x="1222" y="141" width="5" height="4" fill="#000"/>
<line x1="1232.5" y1="143" x2="1232.5" y2="149" stroke="#000" stroke-width="1"/>
<rect x="1230" y="145" width="5" height="1" fill="#000"/>
<line x1="1240.5" y1="142" x2="1240.5" y2="169" stroke="#000" stroke-width="1"/>
<rect x="1238" y="145" width="5" height="6" fill="#000"/>
<line x1="1248.5" y1="143" x2="1248.5" y2="175" stroke="#000" stroke-width="1"/>
<rect x="1246.5" y="148.5" width="4" height="2" fill="#fff" stroke="#000" stroke-width="1"/>
<line x1="1256.5" y1="129" x2="1256.5" y2="156" stroke="#000" stroke-width="1"/>
<rect x="1254.5" y="139.5" width="4" height="10" fill="#fff" stroke="#000" stroke-width="1"/>
<line x1="1264.5" y1="123" x2="1264.5" y2="141" stroke="#000" stroke-width="1"/>
<rect x="1262.5" y="135.5" width="4" height="3" fill="#fff" stroke="#000" stroke-width="1"/>
<line x1="1272.5" y1="133" x2="1272.5" y2="168" stroke="#000" stroke-width="1"/>
<rect x="1270" y="135" width="5" height="23" fill="#000"/>
<line x1="1280.5" y1="156" x2="1280.5" y2="160" stroke="#000" stroke-width="1"/>
<rect x="1278.5" y="157.5" width="4" height="2" fill="#fff" stroke="#000" stroke-width="1"/>
<line x1="1288.5" y1="144" x2="1288.5" y2="166" stroke="#000" stroke-width="1"/>
<rect x="1286.5" y="150.5" width="4" height="7" fill="#fff" stroke="#000" stroke-width="1"/>
<line x1="1296.5" y1="137" x2="1296.5" y2="160" stroke="#000" stroke-width="1"/>
<rect x="1294" y="151" width="5" height="7" fill="#000"/>
<line x1="1304.5" y1="153" x2="1304.5" y2="169" stroke="#000" stroke-width="1"/>
<rect x="1302" y="157" width="5" height="2" fill="#000"/>
<line x1="1312.5" y1="139" x2="1312.5" y2="160" stroke="#000" stroke-width="1"/>
<rect x="1310.5" y="152.5" width="4" height="6" fill="#fff" stroke="#000" stroke-width="1"/>
<line x1="1320.5" y1="134" x2="1320.5" y2="158" stroke="#000" stroke-width="1"/>
<rect x="1318.5" y="147.5" width="4" height="5" fill="#fff" stroke="#000" stroke-width="1"/>
<line x1="1328.5" y1="142" x2="1328.5" y2="147" stroke="#000" stroke-width="1"/>
<rect x="1326.5" y="143.5" width="4" height="3" fill="#fff" stroke="#000" stroke-width="1"/>
<line x1="1336.5" y1="139" x2="1336.5" y2="152" stroke="#000" stroke-width="1"/>
<rect x="1334.5" y="142.5" width="4" height="1" fill="#fff" stroke="#000" stroke-width="1"/>
<line x1="1344.5" y1="106" x2="1344.5" y2="144" stroke="#000" stroke-width="1"/>
<rect x="1342.5" y="107.5" width="4" height="36" fill="#fff" stroke="#000" stroke-width="1"/>
<line x1="1352.5" y1="103" x2="1352.5" y2="148" stroke="#000" stroke-width="1"/>
<rect x="1350" y="107" width="5" height="36" fill="#000"/>
<line x1="1360.5" y1="114" x2="1360.5" y2="154" stroke="#000" stroke-width="1"/>
<rect x="1358.5" y="115.5" width="4" height="27" fill="#fff" stroke="#000" stroke-width="1"/>
<line x1="1368.5" y1="106" x2="1368.5" y2="156" stroke="#000" stroke-width="1"/>
<rect x="1366" y="115" width="5" height="32" fill="#000"/>
<line x1="1376.5" y1="144" x2="1376.5" y2="148" stroke="#000" stroke-width="1"/>
<rect x="1374" y="145" width="5" height="2" fill="#000"/>
<line x1="1384.5" y1="133" x2="1384.5" y2="157" stroke="#000" stroke-width="1"/>
<rect x="1382" y="147" width="5" height="6" fill="#000"/>
<line x1="1392.5" y1="127" x2="1392.5" y2="156" stroke="#000" stroke-width="1"/>
<rect x="1390.5" y="132.5" width="4" height="20" fill="#fff" stroke="#000" stroke-width="1"/>
<line x1="1400.5" y1="115" x2="1400.5" y2="141" stroke="#000" stroke-width="1"/>
<rect x="1398.5" y="115.5" width="4" height="17" fill="#fff" stroke="#000" stroke-width="1"/>
<line x1="1408.5" y1="99" x2="1408.5" y2="131" stroke="#000" stroke-width="1"/>
<rect x="1406" y="115" width="5" height="6" fill="#000"/>
<line x1="1416.5" y1="81" x2="1416.5" y2="124" stroke="#000" stroke-width="1"/>
<rect x="1414.5" y="85.5" width="4" height="35" fill="#fff" stroke="#000" stroke-width="1"/>
<line x1="1424.5" y1="81" x2="1424.5" y2="85" stroke="#000" stroke-width="1"/>
<rect x="1422.5" y="82.5" width="4" height="2" fill="#fff" stroke="#000" stroke-width="1"/>
<line x1="1432.5" y1="71" x2="1432.5" y2="96" stroke="#000" stroke-width="1"/>
<rect x="1430.5" y="80.5" width="4" height="2" fill="#fff" stroke="#000" stroke-width="1"/>
<line x1="1440.5" y1="50" x2="1440.5" y2="82" stroke="#000" stroke-width="1"/>
<rect x="1438.5" y="71.5" width="4" height="8" fill="#fff" stroke="#000" stroke-width="1"/>
<line x1="1448.5" y1="71" x2="1448.5" y2="100" stroke="#000" stroke-width="1"/>
<rect x="1446" y="71" width="5" height="13" fill="#000"/>
<line x1="1456.5" y1="83" x2="1456.5" y2="110" stroke="#000" stroke-width="1"/>
<rect x="1454" y="83" width="5" height="22" fill="#000"/>
<line x1="1464.5" y1="91" x2="1464.5" y2="127" stroke="#000" stroke-width="1"/>
<rect x="1462.5" y="98.5" width="4" height="6" fill="#fff" stroke="#000" stroke-width="1"/>
<line x1="1472.5" y1="106" x2="1472.5" y2="110" stroke="#000" stroke-width="1"/>
<rect x="1470" y="107" width="5" height="2" fill="#000"/>
<line x1="1480.5" y1="106" x2="1480.5" y2="136" stroke="#000" stroke-width="1"/>
<rect x="1478" y="108" width="5" height="23" fill="#000"/>
<line x1="1488.5" y1="128" x2="1488.5" y2="182" stroke="#000" stroke-width="1"/>
<rect x="1486" y="130" width="5" height="49" fill="#000"/>
<line x1="1496.5" y1="164" x2="1496.5" y2="197" stroke="#000" stroke-width="1"/>
<rect x="1494.5" y="171.5" width="4" height="7" fill="#fff" stroke="#000" stroke-width="1"/>
<line x1="1504.5" y1="161" x2="1504.5" y2="226" stroke="#000" stroke-width="1"/>
<rect x="1502" y="171" width="5" height="46" fill="#000"/>
<rect x="1464" y="197" width="92" height="9" fill="#00ff00"/>
<line x1="1442" y1="62" x2="1524.5" y2="266" stroke="#ff0000" stroke-width="3.4" shape-rendering="auto"/>
<polygon points="1525.5,269 1517,260.5 1520,258 1522,261 1524.5,257 1527,256.5" fill="#ff0000" shape-rendering="auto"/>
<line x1="1361" y1="201.5" x2="1368" y2="201.5" stroke="#ff0000"/>
<rect x="1368.5" y="199.5" width="3" height="4" fill="#fff" stroke="#ff0000"/>
<rect x="1371.5" y="189.5" width="73" height="24" fill="#fff" stroke="#ff0000"/>
<text x="1373" y="210.5" font-family='"Liberation Sans",sans-serif' font-size="22.5" fill="#ff0000" stroke="#ff0000" stroke-width="0.15" textLength="70" lengthAdjust="spacingAndGlyphs">1.28703</text>
<path d="M9,0 L2,7 M5,3 L18,3 L3,11.5 M8.5,7.5 L12,9.5 M12,8.5 L5,14 M8,11 L18.5,11 L1,20 M9.5,14.5 L14,16.5" transform="translate(1573,192.5) scale(0.97)" fill="none" stroke="#00ff00" stroke-width="1.8" stroke-linecap="butt" stroke-linejoin="miter" shape-rendering="auto"/>
<path d="M10,0 L10,2.5 M2,6 L2,3 L18,3 L17,6 M7,5 L3,9 M12,5 L17,9 M4,11 L16,11 M10,11 L10,18 M1,18.5 L19,18.5" transform="translate(1596,192.5) scale(0.97)" fill="none" stroke="#00ff00" stroke-width="1.8" stroke-linecap="butt" stroke-linejoin="miter" shape-rendering="auto"/>
<path d="M0,3.5 L8,3.5 M4.5,0 L1,9 L8,9 M4.5,6 L4.5,20 M0,15 L8,12.5 M10,3 L19,3 M9,7 L20,7 M14.5,0 L12,11 L19,11 L15,15 M14,15 L18,19.5" transform="translate(1619,192.5) scale(0.97)" fill="none" stroke="#00ff00" stroke-width="1.8" stroke-linecap="butt" stroke-linejoin="miter" shape-rendering="auto"/>
<path d="M0,5.5 L7,5.5 M4,0 L4,19 L2,17.5 M0,14 L8,11 M18.5,1 L10.5,3.5 L10.5,12 L9,19.5 M10.5,9.5 L20,9.5 M15.5,9.5 L15.5,20" transform="translate(1641.5,192.5) scale(0.97)" fill="none" stroke="#00ff00" stroke-width="1.8" stroke-linecap="butt" stroke-linejoin="miter" shape-rendering="auto"/>
<path d="M9.5,0 L9.5,8 M9.5,4 L17,4 M4,8 L16,8 L16,14 L4,14 Z M2,16.5 L1,19.5 M7,16.5 L8,19.5 M12,16.5 L13.5,19.5 M16.5,16.5 L19,19.5" transform="translate(1665,192.5) scale(0.97)" fill="none" stroke="#00ff00" stroke-width="1.8" stroke-linecap="butt" stroke-linejoin="miter" shape-rendering="auto"/>
</svg>
<svg x="0" y="579" width="1693" height="169" viewBox="0 579 1693 169" overflow="hidden">
<line x1="0.5" y1="631" x2="0.5" y2="634" stroke="#c0c0c0"/>
<line x1="8.5" y1="632" x2="8.5" y2="634" stroke="#c0c0c0"/>
<line x1="16.5" y1="633" x2="16.5" y2="635" stroke="#c0c0c0"/>
<line x1="24.5" y1="633" x2="24.5" y2="638" stroke="#c0c0c0"/>
<line x1="32.5" y1="633" x2="32.5" y2="641" stroke="#c0c0c0"/>
<line x1="40.5" y1="633" x2="40.5" y2="644" stroke="#c0c0c0"/>
<line x1="48.5" y1="633" x2="48.5" y2="645" stroke="#c0c0c0"/>
<line x1="56.5" y1="633" x2="56.5" y2="645" stroke="#c0c0c0"/>
<line x1="64.5" y1="633" x2="64.5" y2="645" stroke="#c0c0c0"/>
<line x1="72.5" y1="633" x2="72.5" y2="642" stroke="#c0c0c0"/>
<line x1="80.5" y1="633" x2="80.5" y2="640" stroke="#c0c0c0"/>
<line x1="88.5" y1="633" x2="88.5" y2="639" stroke="#c0c0c0"/>
<line x1="96.5" y1="633" x2="96.5" y2="638" stroke="#c0c0c0"/>
<line x1="104.5" y1="633" x2="104.5" y2="638" stroke="#c0c0c0"/>
<line x1="112.5" y1="633" x2="112.5" y2="640" stroke="#c0c0c0"/>
<line x1="120.5" y1="633" x2="120.5" y2="642" stroke="#c0c0c0"/>
<line x1="128.5" y1="633" x2="128.5" y2="641" stroke="#c0c0c0"/>
<line x1="136.5" y1="633" x2="136.5" y2="641" stroke="#c0c0c0"/>
<line x1="144.5" y1="633" x2="144.5" y2="642" stroke="#c0c0c0"/>
<line x1="152.5" y1="633" x2="152.5" y2="640" stroke="#c0c0c0"/>
<line x1="160.5" y1="633" x2="160.5" y2="641" stroke="#c0c0c0"/>
<line x1="168.5" y1="633" x2="168.5" y2="643" stroke="#c0c0c0"/>
<line x1="176.5" y1="633" x2="176.5" y2="646" stroke="#c0c0c0"/>
<line x1="184.5" y1="633" x2="184.5" y2="648" stroke="#c0c0c0"/>
<line x1="192.5" y1="633" x2="192.5" y2="650" stroke="#c0c0c0"/>
<line x1="200.5" y1="633" x2="200.5" y2="650" stroke="#c0c0c0"/>
<line x1="208.5" y1="633" x2="208.5" y2="649" stroke="#c0c0c0"/>
<line x1="216.5" y1="633" x2="216.5" y2="646" stroke="#c0c0c0"/>
<line x1="224.5" y1="633" x2="224.5" y2="642" stroke="#c0c0c0"/>
<line x1="232.5" y1="633" x2="232.5" y2="637" stroke="#c0c0c0"/>
<line x1="240.5" y1="633" x2="240.5" y2="634" stroke="#c0c0c0"/>
<line x1="248.5" y1="633" x2="248.5" y2="635" stroke="#c0c0c0"/>
<line x1="256.5" y1="633" x2="256.5" y2="638" stroke="#c0c0c0"/>
<line x1="264.5" y1="633" x2="264.5" y2="646" stroke="#c0c0c0"/>
<line x1="272.5" y1="633" x2="272.5" y2="659" stroke="#c0c0c0"/>
<line x1="280.5" y1="633" x2="280.5" y2="666" stroke="#c0c0c0"/>
<line x1="288.5" y1="633" x2="288.5" y2="675" stroke="#c0c0c0"/>
<line x1="296.5" y1="633" x2="296.5" y2="685" stroke="#c0c0c0"/>
<line x1="304.5" y1="633" x2="304.5" y2="704" stroke="#c0c0c0"/>
<line x1="312.5" y1="633" x2="312.5" y2="721" stroke="#c0c0c0"/>
<line x1="320.5" y1="633" x2="320.5" y2="732" stroke="#c0c0c0"/>
<line x1="328.5" y1="633" x2="328.5" y2="738" stroke="#c0c0c0"/>
<line x1="336.5" y1="633" x2="336.5" y2="742" stroke="#c0c0c0"/>
<line x1="344.5" y1="633" x2="344.5" y2="739" stroke="#c0c0c0"/>
<line x1="352.5" y1="633" x2="352.5" y2="734" stroke="#c0c0c0"/>
<line x1="360.5" y1="633" x2="360.5" y2="721" stroke="#c0c0c0"/>
<line x1="368.5" y1="633" x2="368.5" y2="703" stroke="#c0c0c0"/>
<line x1="376.5" y1="633" x2="376.5" y2="689" stroke="#c0c0c0"/>
<line x1="384.5" y1="633" x2="384.5" y2="679" stroke="#c0c0c0"/>
<line x1="392.5" y1="633" x2="392.5" y2="670" stroke="#c0c0c0"/>
<line x1="400.5" y1="633" x2="400.5" y2="663" stroke="#c0c0c0"/>
<line x1="408.5" y1="633" x2="408.5" y2="657" stroke="#c0c0c0"/>
<line x1="416.5" y1="633" x2="416.5" y2="655" stroke="#c0c0c0"/>
<line x1="424.5" y1="633" x2="424.5" y2="654" stroke="#c0c0c0"/>
<line x1="432.5" y1="633" x2="432.5" y2="653" stroke="#c0c0c0"/>
<line x1="440.5" y1="633" x2="440.5" y2="650" stroke="#c0c0c0"/>
<line x1="448.5" y1="633" x2="448.5" y2="645" stroke="#c0c0c0"/>
<line x1="456.5" y1="633" x2="456.5" y2="640" stroke="#c0c0c0"/>
<line x1="464.5" y1="633" x2="464.5" y2="636" stroke="#c0c0c0"/>
<line x1="472.5" y1="631" x2="472.5" y2="634" stroke="#c0c0c0"/>
<line x1="480.5" y1="624" x2="480.5" y2="634" stroke="#c0c0c0"/>
<line x1="488.5" y1="622" x2="488.5" y2="634" stroke="#c0c0c0"/>
<line x1="496.5" y1="621" x2="496.5" y2="634" stroke="#c0c0c0"/>
<line x1="504.5" y1="621" x2="504.5" y2="634" stroke="#c0c0c0"/>
<line x1="512.5" y1="621" x2="512.5" y2="634" stroke="#c0c0c0"/>
<line x1="520.5" y1="622" x2="520.5" y2="634" stroke="#c0c0c0"/>
<line x1="528.5" y1="626" x2="528.5" y2="634" stroke="#c0c0c0"/>
<line x1="536.5" y1="629" x2="536.5" y2="634" stroke="#c0c0c0"/>
<line x1="544.5" y1="631" x2="544.5" y2="634" stroke="#c0c0c0"/>
<line x1="552.5" y1="632" x2="552.5" y2="634" stroke="#c0c0c0"/>
<line x1="560.5" y1="632" x2="560.5" y2="634" stroke="#c0c0c0"/>
<line x1="568.5" y1="632" x2="568.5" y2="634" stroke="#c0c0c0"/>
<line x1="576.5" y1="631" x2="576.5" y2="634" stroke="#c0c0c0"/>
<line x1="584.5" y1="629" x2="584.5" y2="634" stroke="#c0c0c0"/>
<line x1="592.5" y1="625" x2="592.5" y2="634" stroke="#c0c0c0"/>
<line x1="600.5" y1="625" x2="600.5" y2="634" stroke="#c0c0c0"/>
<line x1="608.5" y1="625" x2="608.5" y2="634" stroke="#c0c0c0"/>
<line x1="616.5" y1="626" x2="616.5" y2="634" stroke="#c0c0c0"/>
<line x1="624.5" y1="626" x2="624.5" y2="634" stroke="#c0c0c0"/>
<line x1="632.5" y1="630" x2="632.5" y2="634" stroke="#c0c0c0"/>
<line x1="640.5" y1="631" x2="640.5" y2="634" stroke="#c0c0c0"/>
<line x1="648.5" y1="632" x2="648.5" y2="634" stroke="#c0c0c0"/>
<line x1="656.5" y1="632" x2="656.5" y2="634" stroke="#c0c0c0"/>
<line x1="664.5" y1="633" x2="664.5" y2="635" stroke="#c0c0c0"/>
<line x1="672.5" y1="633" x2="672.5" y2="638" stroke="#c0c0c0"/>
<line x1="680.5" y1="633" x2="680.5" y2="642" stroke="#c0c0c0"/>
<line x1="688.5" y1="633" x2="688.5" y2="644" stroke="#c0c0c0"/>
<line x1="696.5" y1="633" x2="696.5" y2="649" stroke="#c0c0c0"/>
<line x1="704.5" y1="633" x2="704.5" y2="653" stroke="#c0c0c0"/>
<line x1="712.5" y1="633" x2="712.5" y2="653" stroke="#c0c0c0"/>
<line x1="720.5" y1="633" x2="720.5" y2="652" stroke="#c0c0c0"/>
<line x1="728.5" y1="633" x2="728.5" y2="651" stroke="#c0c0c0"/>
<line x1="736.5" y1="633" x2="736.5" y2="651" stroke="#c0c0c0"/>
<line x1="744.5" y1="633" x2="744.5" y2="651" stroke="#c0c0c0"/>
<line x1="752.5" y1="633" x2="752.5" y2="651" stroke="#c0c0c0"/>
<line x1="760.5" y1="633" x2="760.5" y2="651" stroke="#c0c0c0"/>
<line x1="768.5" y1="633" x2="768.5" y2="647" stroke="#c0c0c0"/>
<line x1="776.5" y1="633" x2="776.5" y2="645" stroke="#c0c0c0"/>
<line x1="784.5" y1="633" x2="784.5" y2="643" stroke="#c0c0c0"/>
<line x1="792.5" y1="633" x2="792.5" y2="640" stroke="#c0c0c0"/>
<line x1="800.5" y1="633" x2="800.5" y2="638" stroke="#c0c0c0"/>
<line x1="808.5" y1="632" x2="808.5" y2="634" stroke="#c0c0c0"/>
<line x1="816.5" y1="625" x2="816.5" y2="634" stroke="#c0c0c0"/>
<line x1="824.5" y1="621" x2="824.5" y2="634" stroke="#c0c0c0"/>
<line x1="832.5" y1="616" x2="832.5" y2="634" stroke="#c0c0c0"/>
<line x1="840.5" y1="612" x2="840.5" y2="634" stroke="#c0c0c0"/>
<line x1="848.5" y1="607" x2="848.5" y2="634" stroke="#c0c0c0"/>
<line x1="856.5" y1="603" x2="856.5" y2="634" stroke="#c0c0c0"/>
<line x1="864.5" y1="601" x2="864.5" y2="634" stroke="#c0c0c0"/>
<line x1="872.5" y1="600" x2="872.5" y2="634" stroke="#c0c0c0"/>
<line x1="880.5" y1="603" x2="880.5" y2="634" stroke="#c0c0c0"/>
<line x1="888.5" y1="607" x2="888.5" y2="634" stroke="#c0c0c0"/>
<line x1="896.5" y1="611" x2="896.5" y2="634" stroke="#c0c0c0"/>
<line x1="904.5" y1="610" x2="904.5" y2="634" stroke="#c0c0c0"/>
<line x1="912.5" y1="612" x2="912.5" y2="634" stroke="#c0c0c0"/>
<line x1="920.5" y1="614" x2="920.5" y2="634" stroke="#c0c0c0"/>
<line x1="928.5" y1="619" x2="928.5" y2="634" stroke="#c0c0c0"/>
<line x1="936.5" y1="625" x2="936.5" y2="634" stroke="#c0c0c0"/>
<line x1="944.5" y1="629" x2="944.5" y2="634" stroke="#c0c0c0"/>
<line x1="952.5" y1="629" x2="952.5" y2="634" stroke="#c0c0c0"/>
<line x1="960.5" y1="629" x2="960.5" y2="634" stroke="#c0c0c0"/>
<line x1="968.5" y1="631" x2="968.5" y2="634" stroke="#c0c0c0"/>
<line x1="976.5" y1="633" x2="976.5" y2="634" stroke="#c0c0c0"/>
<line x1="984.5" y1="633" x2="984.5" y2="637" stroke="#c0c0c0"/>
<line x1="992.5" y1="633" x2="992.5" y2="639" stroke="#c0c0c0"/>
<line x1="1000.5" y1="633" x2="1000.5" y2="642" stroke="#c0c0c0"/>
<line x1="1008.5" y1="633" x2="1008.5" y2="642" stroke="#c0c0c0"/>
<line x1="1016.5" y1="633" x2="1016.5" y2="640" stroke="#c0c0c0"/>
<line x1="1024.5" y1="633" x2="1024.5" y2="639" stroke="#c0c0c0"/>
<line x1="1032.5" y1="633" x2="1032.5" y2="637" stroke="#c0c0c0"/>
<line x1="1040.5" y1="633" x2="1040.5" y2="636" stroke="#c0c0c0"/>
<line x1="1048.5" y1="633" x2="1048.5" y2="635" stroke="#c0c0c0"/>
<line x1="1056.5" y1="632" x2="1056.5" y2="634" stroke="#c0c0c0"/>
<line x1="1064.5" y1="628" x2="1064.5" y2="634" stroke="#c0c0c0"/>
<line x1="1072.5" y1="626" x2="1072.5" y2="634" stroke="#c0c0c0"/>
<line x1="1080.5" y1="623" x2="1080.5" y2="634" stroke="#c0c0c0"/>
<line x1="1088.5" y1="622" x2="1088.5" y2="634" stroke="#c0c0c0"/>
<line x1="1096.5" y1="622" x2="1096.5" y2="634" stroke="#c0c0c0"/>
<line x1="1104.5" y1="622" x2="1104.5" y2="634" stroke="#c0c0c0"/>
<line x1="1112.5" y1="622" x2="1112.5" y2="634" stroke="#c0c0c0"/>
<line x1="1120.5" y1="623" x2="1120.5" y2="634" stroke="#c0c0c0"/>
<line x1="1128.5" y1="623" x2="1128.5" y2="634" stroke="#c0c0c0"/>
<line x1="1136.5" y1="623" x2="1136.5" y2="634" stroke="#c0c0c0"/>
<line x1="1144.5" y1="622" x2="1144.5" y2="634" stroke="#c0c0c0"/>
<line x1="1152.5" y1="619" x2="1152.5" y2="634" stroke="#c0c0c0"/>
<line x1="1160.5" y1="617" x2="1160.5" y2="634" stroke="#c0c0c0"/>
<line x1="1168.5" y1="615" x2="1168.5" y2="634" stroke="#c0c0c0"/>
<line x1="1176.5" y1="613" x2="1176.5" y2="634" stroke="#c0c0c0"/>
<line x1="1184.5" y1="611" x2="1184.5" y2="634" stroke="#c0c0c0"/>
<line x1="1192.5" y1="608" x2="1192.5" y2="634" stroke="#c0c0c0"/>
<line x1="1200.5" y1="604" x2="1200.5" y2="634" stroke="#c0c0c0"/>
<line x1="1208.5" y1="601" x2="1208.5" y2="634" stroke="#c0c0c0"/>
<line x1="1216.5" y1="595" x2="1216.5" y2="634" stroke="#c0c0c0"/>
<line x1="1224.5" y1="592" x2="1224.5" y2="634" stroke="#c0c0c0"/>
<line x1="1232.5" y1="589" x2="1232.5" y2="634" stroke="#c0c0c0"/>
<line x1="1240.5" y1="588" x2="1240.5" y2="634" stroke="#c0c0c0"/>
<line x1="1248.5" y1="588" x2="1248.5" y2="634" stroke="#c0c0c0"/>
<line x1="1256.5" y1="588" x2="1256.5" y2="634" stroke="#c0c0c0"/>
<line x1="1264.5" y1="587" x2="1264.5" y2="634" stroke="#c0c0c0"/>
<line x1="1272.5" y1="590" x2="1272.5" y2="634" stroke="#c0c0c0"/>
<line x1="1280.5" y1="592" x2="1280.5" y2="634" stroke="#c0c0c0"/>
<line x1="1288.5" y1="593" x2="1288.5" y2="634" stroke="#c0c0c0"/>
<line x1="1296.5" y1="596" x2="1296.5" y2="634" stroke="#c0c0c0"/>
<line x1="1304.5" y1="598" x2="1304.5" y2="634" stroke="#c0c0c0"/>
<line x1="1312.5" y1="600" x2="1312.5" y2="634" stroke="#c0c0c0"/>
<line x1="1320.5" y1="601" x2="1320.5" y2="634" stroke="#c0c0c0"/>
<line x1="1328.5" y1="602" x2="1328.5" y2="634" stroke="#c0c0c0"/>
<line x1="1336.5" y1="603" x2="1336.5" y2="634" stroke="#c0c0c0"/>
<line x1="1344.5" y1="601" x2="1344.5" y2="634" stroke="#c0c0c0"/>
<line x1="1352.5" y1="603" x2="1352.5" y2="634" stroke="#c0c0c0"/>
<line x1="1360.5" y1="602" x2="1360.5" y2="634" stroke="#c0c0c0"/>
<line x1="1368.5" y1="605" x2="1368.5" y2="634" stroke="#c0c0c0"/>
<line x1="1376.5" y1="607" x2="1376.5" y2="634" stroke="#c0c0c0"/>
<line x1="1384.5" y1="610" x2="1384.5" y2="634" stroke="#c0c0c0"/>
<line x1="1392.5" y1="611" x2="1392.5" y2="634" stroke="#c0c0c0"/>
<line x1="1400.5" y1="610" x2="1400.5" y2="634" stroke="#c0c0c0"/>
<line x1="1408.5" y1="610" x2="1408.5" y2="634" stroke="#c0c0c0"/>
<line x1="1416.5" y1="607" x2="1416.5" y2="634" stroke="#c0c0c0"/>
<line x1="1424.5" y1="604" x2="1424.5" y2="634" stroke="#c0c0c0"/>
<line x1="1432.5" y1="602" x2="1432.5" y2="634" stroke="#c0c0c0"/>
<line x1="1440.5" y1="601" x2="1440.5" y2="634" stroke="#c0c0c0"/>
<line x1="1448.5" y1="601" x2="1448.5" y2="634" stroke="#c0c0c0"/>
<line x1="1456.5" y1="603" x2="1456.5" y2="634" stroke="#c0c0c0"/>
<line x1="1464.5" y1="605" x2="1464.5" y2="634" stroke="#c0c0c0"/>
<line x1="1472.5" y1="607" x2="1472.5" y2="634" stroke="#c0c0c0"/>
<line x1="1480.5" y1="612" x2="1480.5" y2="634" stroke="#c0c0c0"/>
<line x1="1488.5" y1="620" x2="1488.5" y2="634" stroke="#c0c0c0"/>
<line x1="1496.5" y1="626" x2="1496.5" y2="634" stroke="#c0c0c0"/>
<line x1="1504.5" y1="633" x2="1504.5" y2="636" stroke="#c0c0c0"/>
<polyline points="0.5,632.8 8.5,632.7 16.5,632.9 24.5,633.3 32.5,634.2 40.5,635.3 48.5,636.5 56.5,637.7 64.5,638.9 72.5,640.0 80.5,640.8 88.5,641.2 96.5,641.2 104.5,640.8 112.5,640.4 120.5,640.0 128.5,639.6 136.5,639.2 144.5,639.2 152.5,639.1 160.5,639.4 168.5,639.9 176.5,640.7 184.5,641.6 192.5,642.5 200.5,643.5 208.5,644.3 216.5,644.8 224.5,645.0 232.5,644.5 240.5,643.6 248.5,642.4 256.5,641.3 264.5,640.9 272.5,641.9 280.5,643.8 288.5,647.0 296.5,651.7 304.5,659.1 312.5,668.9 320.5,679.6 328.5,690.7 336.5,701.3 344.5,710.3 352.5,717.8 360.5,723.0 368.5,725.0 376.5,723.3 384.5,718.6 392.5,711.8 400.5,703.5 408.5,694.0 416.5,684.7 424.5,675.8 432.5,668.3 440.5,662.3 448.5,657.5 456.5,653.2 464.5,649.4 472.5,645.9 480.5,642.4 488.5,638.9 496.5,635.3 504.5,631.8 512.5,628.7 520.5,626.2 528.5,624.8 536.5,624.1 544.5,624.1 552.5,624.9 560.5,626.0 568.5,627.2 576.5,628.3 584.5,629.3 592.5,629.7 600.5,629.5 608.5,629.1 616.5,628.6 624.5,628.0 632.5,627.7 640.5,627.6 648.5,627.7 656.5,628.0 664.5,628.9 672.5,630.3 680.5,632.0 688.5,633.9 696.5,636.3 704.5,638.7 712.5,641.0 720.5,643.2 728.5,645.2 736.5,646.9 744.5,648.4 752.5,649.4 760.5,650.2 768.5,650.0 776.5,649.2 784.5,648.0 792.5,646.8 800.5,645.4 808.5,643.4 816.5,640.6 824.5,637.4 832.5,633.7 840.5,629.9 848.5,625.7 856.5,621.5 864.5,617.2 872.5,613.1 880.5,609.9 888.5,607.9 896.5,606.8 904.5,606.1 912.5,606.1 920.5,606.9 928.5,608.6 936.5,611.2 944.5,614.4 952.5,617.4 960.5,619.8 968.5,622.1 976.5,624.5 984.5,627.2 992.5,629.9 1000.5,632.4 1008.5,634.2 1016.5,635.4 1024.5,636.3 1032.5,637.2 1040.5,637.6 1048.5,637.7 1056.5,637.2 1064.5,636.1 1072.5,634.3 1080.5,632.3 1088.5,630.3 1096.5,628.6 1104.5,627.0 1112.5,625.5 1120.5,624.3 1128.5,623.3 1136.5,622.8 1144.5,622.4 1152.5,621.9 1160.5,621.4 1168.5,620.6 1176.5,619.5 1184.5,618.3 1192.5,616.6 1200.5,614.6 1208.5,612.1 1216.5,609.1 1224.5,606.1 1232.5,603.1 1240.5,600.1 1248.5,597.4 1256.5,594.8 1264.5,592.5 1272.5,590.9 1280.5,589.9 1288.5,589.7 1296.5,590.2 1304.5,591.2 1312.5,592.4 1320.5,593.9 1328.5,595.5 1336.5,597.3 1344.5,598.6 1352.5,599.8 1360.5,600.8 1368.5,601.8 1376.5,602.8 1384.5,603.9 1392.5,605.0 1400.5,605.8 1408.5,606.6 1416.5,607.2 1424.5,607.4 1432.5,607.4 1440.5,606.9 1448.5,606.2 1456.5,605.3 1464.5,604.7 1472.5,604.4 1480.5,604.6 1488.5,606.1 1496.5,608.5 1504.5,612.2" fill="none" stroke="#ff0000" stroke-width="1" stroke-dasharray="3,3" shape-rendering="crispEdges"/>
</svg>
<svg x="0" y="751" width="1693" height="173" viewBox="0 751 1693 173" overflow="hidden">
<line x1="0" y1="786.5" x2="1693" y2="786.5" stroke="#c0c0c0" stroke-dasharray="3,3"/>
<line x1="0" y1="837.5" x2="1693" y2="837.5" stroke="#c0c0c0" stroke-dasharray="3,3"/>
<line x1="0" y1="898.5" x2="1693" y2="898.5" stroke="#c0c0c0" stroke-dasharray="3,3"/>
<polyline points="0.5,847.9 8.5,843.2 16.5,847.2 24.5,854.4 32.5,858.5 40.5,858.5 48.5,853.4 56.5,846.8 64.5,847.2 72.5,833.6 80.5,835.7 88.5,833.9 96.5,840.1 104.5,841.3 112.5,851.8 120.5,857.3 128.5,841.7 136.5,844.3 144.5,848.3 152.5,836.3 160.5,849.1 168.5,850.9 176.5,861.0 184.5,857.9 192.5,862.2 200.5,853.1 208.5,845.4 216.5,835.1 224.5,827.6 232.5,819.4 240.5,823.2 248.5,843.3 256.5,851.5 264.5,868.4 272.5,880.4 280.5,870.6 288.5,876.2 296.5,881.5 304.5,893.9 312.5,895.9 320.5,888.8 328.5,885.2 336.5,885.7 344.5,869.7 352.5,865.0 360.5,843.3 368.5,829.8 376.5,831.3 384.5,835.7 392.5,833.9 400.5,835.3 408.5,834.6 416.5,841.8 424.5,844.8 432.5,843.5 440.5,836.5 448.5,833.2 456.5,829.2 464.5,829.0 472.5,825.0 480.5,818.6 488.5,827.7 496.5,830.3 504.5,830.4 512.5,830.6 520.5,834.9 528.5,846.5 536.5,844.6 544.5,841.8 552.5,841.6 560.5,839.9 568.5,834.1 576.5,832.9 584.5,829.0 592.5,818.7 600.5,830.7 608.5,833.9 616.5,835.2 624.5,834.9 632.5,848.4 640.5,842.2 648.5,838.0 656.5,837.3 664.5,847.4 672.5,854.8 680.5,856.4 688.5,856.5 696.5,867.2 704.5,869.8 712.5,852.2 720.5,845.1 728.5,847.3 736.5,849.1 744.5,854.1 752.5,851.8 760.5,849.6 768.5,832.5 776.5,840.5 784.5,834.1 792.5,833.1 800.5,830.5 808.5,816.1 816.5,808.6 824.5,810.0 832.5,807.4 840.5,802.5 848.5,799.3 856.5,798.1 864.5,802.7 872.5,802.5 880.5,826.2 888.5,836.3 896.5,833.9 904.5,820.9 912.5,828.4 920.5,832.4 928.5,846.1 936.5,852.3 944.5,852.7 952.5,835.6 960.5,833.2 968.5,844.6 976.5,843.1 984.5,850.8 992.5,850.5 1000.5,853.7 1008.5,844.0 1016.5,835.4 1024.5,835.4 1032.5,834.0 1040.5,834.7 1048.5,831.4 1056.5,826.0 1064.5,818.0 1072.5,819.3 1080.5,817.2 1088.5,817.5 1096.5,830.2 1104.5,828.0 1112.5,825.0 1120.5,831.0 1128.5,829.0 1136.5,829.3 1144.5,815.9 1152.5,808.3 1160.5,809.0 1168.5,808.4 1176.5,802.1 1184.5,801.4 1192.5,793.2 1200.5,790.4 1208.5,786.8 1216.5,779.4 1224.5,782.8 1232.5,782.9 1240.5,788.5 1248.5,788.0 1256.5,785.4 1264.5,784.3 1272.5,806.6 1280.5,806.4 1288.5,803.4 1296.5,810.5 1304.5,811.3 1312.5,808.3 1320.5,805.7 1328.5,803.7 1336.5,803.2 1344.5,789.0 1352.5,819.9 1360.5,809.0 1368.5,827.9 1376.5,827.9 1384.5,831.3 1392.5,822.2 1400.5,815.6 1408.5,818.9 1416.5,806.8 1424.5,806.0 1432.5,805.3 1440.5,802.5 1448.5,811.1 1456.5,824.5 1464.5,821.8 1472.5,828.1 1480.5,839.6 1488.5,858.5 1496.5,854.1 1504.5,867.5" fill="none" stroke="#1e90ff" stroke-width="1" shape-rendering="crispEdges"/>
</svg>
<line x1="1694" y1="45.5" x2="1697" y2="45.5" stroke="#000"/>
<text x="1699" y="49" class="t">1.35040</text>
<line x1="1694" y1="78.5" x2="1697" y2="78.5" stroke="#000"/>
<text x="1699" y="82" class="t">1.33680</text>
<line x1="1694" y1="111.5" x2="1697" y2="111.5" stroke="#000"/>
<text x="1699" y="115" class="t">1.32360</text>
<line x1="1694" y1="144.5" x2="1697" y2="144.5" stroke="#000"/>
<text x="1699" y="148" class="t">1.31000</text>
<line x1="1694" y1="177.5" x2="1697" y2="177.5" stroke="#000"/>
<line x1="1694" y1="210.5" x2="1697" y2="210.5" stroke="#000"/>
<text x="1699" y="214" class="t">1.28360</text>
<line x1="1694" y1="243.5" x2="1697" y2="243.5" stroke="#000"/>
<text x="1699" y="247" class="t">1.27000</text>
<line x1="1694" y1="276.5" x2="1697" y2="276.5" stroke="#000"/>
<text x="1699" y="280" class="t">1.25680</text>
<line x1="1694" y1="309.5" x2="1697" y2="309.5" stroke="#000"/>
<text x="1699" y="313" class="t">1.24360</text>
<line x1="1694" y1="342.5" x2="1697" y2="342.5" stroke="#000"/>
<text x="1699" y="346" class="t">1.23000</text>
<line x1="1694" y1="375.5" x2="1697" y2="375.5" stroke="#000"/>
<text x="1699" y="379" class="t">1.21680</text>
<line x1="1694" y1="408.5" x2="1697" y2="408.5" stroke="#000"/>
<text x="1699" y="412" class="t">1.20320</text>
<line x1="1694" y1="441.5" x2="1697" y2="441.5" stroke="#000"/>
<text x="1699" y="445" class="t">1.19000</text>
<line x1="1694" y1="474.5" x2="1697" y2="474.5" stroke="#000"/>
<text x="1699" y="478" class="t">1.17680</text>
<line x1="1694" y1="507.5" x2="1697" y2="507.5" stroke="#000"/>
<text x="1699" y="511" class="t">1.16320</text>
<line x1="1694" y1="540.5" x2="1697" y2="540.5" stroke="#000"/>
<text x="1699" y="544" class="t">1.15000</text>
<line x1="1694" y1="573.5" x2="1697" y2="573.5" stroke="#000"/>
<text x="1699" y="577" class="t">1.13680</text>
<rect x="1695" y="150" width="41" height="11" fill="#ff0000"/>
<text x="1699" y="160" class="t" style="fill:#fff">1.30520</text>
<rect x="1695" y="174" width="41" height="11" fill="#ff4500"/>
<text x="1699" y="184" class="t" style="fill:#fff">1.29551</text>
<rect x="1695" y="195" width="41" height="11" fill="#32cd32"/>
<text x="1699" y="205" class="t" style="fill:#fff">1.28703</text>
<rect x="1695" y="211" width="41" height="11" fill="#000000"/>
<text x="1699" y="221" class="t" style="fill:#fff">1.28063</text>
<rect x="1695" y="235" width="41" height="11" fill="#0000ff"/>
<text x="1699" y="245" class="t" style="fill:#fff">1.27087</text>
<rect x="1695" y="260" width="41" height="11" fill="#0000ff"/>
<text x="1699" y="270" class="t" style="fill:#fff">1.26078</text>
<line x1="1694" y1="579.5" x2="1697" y2="579.5" stroke="#000"/>
<text x="1697" y="589" class="t" textLength="38" lengthAdjust="spacingAndGlyphs">0.017833</text>
<line x1="1694" y1="633.5" x2="1697" y2="633.5" stroke="#000"/>
<text x="1697" y="637" class="t" textLength="18" lengthAdjust="spacingAndGlyphs">0.00</text>
<line x1="1694" y1="748.5" x2="1697" y2="748.5" stroke="#000"/>
<text x="1697" y="745" class="t" textLength="40.5" lengthAdjust="spacingAndGlyphs">-0.038559</text>
<line x1="1694" y1="751.5" x2="1697" y2="751.5" stroke="#000"/>
<text x="1697" y="762" class="t">100</text>
<text x="1697" y="790" class="t">80</text>
<text x="1697" y="841" class="t">50</text>
<text x="1697" y="902" class="t">15</text>
<text x="1697" y="921" class="t">0</text>
<line x1="0.5" y1="925" x2="0.5" y2="929" stroke="#000"/>
<text x="-2" y="937" class="t" textLength="46.3" lengthAdjust="spacingAndGlyphs">3 Feb 2020</text>
<line x1="64.5" y1="925" x2="64.5" y2="929" stroke="#000"/>
<text x="63" y="937" class="t" textLength="51.4" lengthAdjust="spacingAndGlyphs">12 Feb 2020</text>
<line x1="128.5" y1="925" x2="128.5" y2="929" stroke="#000"/>
<text x="127" y="937" class="t" textLength="51.4" lengthAdjust="spacingAndGlyphs">21 Feb 2020</text>
<line x1="192.5" y1="925" x2="192.5" y2="929" stroke="#000"/>
<text x="191" y="937" class="t" textLength="46.3" lengthAdjust="spacingAndGlyphs">2 Mar 2020</text>
<line x1="256.5" y1="925" x2="256.5" y2="929" stroke="#000"/>
<text x="255" y="937" class="t" textLength="50.7" lengthAdjust="spacingAndGlyphs">11 Mar 2020</text>
<line x1="320.5" y1="925" x2="320.5" y2="929" stroke="#000"/>
<text x="319" y="937" class="t" textLength="51.4" lengthAdjust="spacingAndGlyphs">20 Mar 2020</text>
<line x1="384.5" y1="925" x2="384.5" y2="929" stroke="#000"/>
<text x="383" y="937" class="t" textLength="51.4" lengthAdjust="spacingAndGlyphs">30 Mar 2020</text>
<line x1="448.5" y1="925" x2="448.5" y2="929" stroke="#000"/>
<text x="447" y="937" class="t" textLength="44.3" lengthAdjust="spacingAndGlyphs">8 Apr 2020</text>
<line x1="512.5" y1="925" x2="512.5" y2="929" stroke="#000"/>
<text x="511" y="937" class="t" textLength="49.3" lengthAdjust="spacingAndGlyphs">19 Apr 2020</text>
<line x1="576.5" y1="925" x2="576.5" y2="929" stroke="#000"/>
<text x="575" y="937" class="t" textLength="49.3" lengthAdjust="spacingAndGlyphs">28 Apr 2020</text>
<line x1="640.5" y1="925" x2="640.5" y2="929" stroke="#000"/>
<text x="639" y="937" class="t" textLength="47.8" lengthAdjust="spacingAndGlyphs">7 May 2020</text>
<line x1="704.5" y1="925" x2="704.5" y2="929" stroke="#000"/>
<text x="703" y="937" class="t" textLength="52.9" lengthAdjust="spacingAndGlyphs">17 May 2020</text>
<line x1="768.5" y1="925" x2="768.5" y2="929" stroke="#000"/>
<text x="767" y="937" class="t" textLength="52.9" lengthAdjust="spacingAndGlyphs">26 May 2020</text>
<line x1="832.5" y1="925" x2="832.5" y2="929" stroke="#000"/>
<text x="831" y="937" class="t" textLength="45.3" lengthAdjust="spacingAndGlyphs">4 Jun 2020</text>
<line x1="896.5" y1="925" x2="896.5" y2="929" stroke="#000"/>
<text x="895" y="937" class="t" textLength="50.4" lengthAdjust="spacingAndGlyphs">14 Jun 2020</text>
<line x1="960.5" y1="925" x2="960.5" y2="929" stroke="#000"/>
<text x="959" y="937" class="t" textLength="50.4" lengthAdjust="spacingAndGlyphs">23 Jun 2020</text>
<line x1="1024.5" y1="925" x2="1024.5" y2="929" stroke="#000"/>
<text x="1023" y="937" class="t" textLength="42.2" lengthAdjust="spacingAndGlyphs">2 Jul 2020</text>
<line x1="1088.5" y1="925" x2="1088.5" y2="929" stroke="#000"/>
<text x="1087" y="937" class="t" textLength="47.3" lengthAdjust="spacingAndGlyphs">12 Jul 2020</text>
<line x1="1152.5" y1="925" x2="1152.5" y2="929" stroke="#000"/>
<text x="1151" y="937" class="t" textLength="47.3" lengthAdjust="spacingAndGlyphs">21 Jul 2020</text>
<line x1="1216.5" y1="925" x2="1216.5" y2="929" stroke="#000"/>
<text x="1215" y="937" class="t" textLength="47.3" lengthAdjust="spacingAndGlyphs">30 Jul 2020</text>
<line x1="1280.5" y1="925" x2="1280.5" y2="929" stroke="#000"/>
<text x="1279" y="937" class="t" textLength="46.3" lengthAdjust="spacingAndGlyphs">9 Aug 2020</text>
<line x1="1344.5" y1="925" x2="1344.5" y2="929" stroke="#000"/>
<text x="1343" y="937" class="t" textLength="51.4" lengthAdjust="spacingAndGlyphs">18 Aug 2020</text>
<line x1="1408.5" y1="925" x2="1408.5" y2="929" stroke="#000"/>
<text x="1407" y="937" class="t" textLength="51.4" lengthAdjust="spacingAndGlyphs">27 Aug 2020</text>
<line x1="1472.5" y1="925" x2="1472.5" y2="929" stroke="#000"/>
<text x="1471" y="937" class="t" textLength="46.8" lengthAdjust="spacingAndGlyphs">6 Sep 2020</text>
<polygon points="1517.5,24 1527.5,24 1522.5,29" fill="#b8b8b8"/>
<polygon points="3,34 10,34 6.5,29.5" fill="#000"/>
<rect x="1.5" y="-2" width="15" height="15.5" rx="1.5" fill="#fff" stroke="#3b78c4" stroke-width="1.6"/>
<rect x="1" y="-1" width="3" height="14" fill="#5a8ad0"/><line x1="2.5" y1="7" x2="2.5" y2="11" stroke="#333"/>
<line x1="7" y1="2.5" x2="16" y2="2.5" stroke="#b8cdf0"/>
<rect x="6" y="2.0" width="1.2" height="1.2" fill="#e02020"/>
<line x1="7" y1="4.5" x2="16" y2="4.5" stroke="#b8cdf0"/>
<rect x="3" y="4.0" width="1.2" height="1.2" fill="#333"/>
<line x1="7" y1="6.5" x2="16" y2="6.5" stroke="#b8cdf0"/>
<rect x="3" y="6.0" width="1.2" height="1.2" fill="#333"/>
<line x1="7" y1="8.5" x2="16" y2="8.5" stroke="#b8cdf0"/>
<rect x="6" y="8.0" width="1.2" height="1.2" fill="#e02020"/>
<rect x="29.5" y="-2" width="11" height="15" fill="#fff" stroke="#c8b89a"/>
<circle cx="37.5" cy="8" r="4.5" fill="#dfe9f5" stroke="#7aa0d8" stroke-width="1.2"/>
<line x1="40.5" y1="11.5" x2="45.5" y2="16" stroke="#c89b1a" stroke-width="2.2"/>
<line x1="54.5" y1="0" x2="54.5" y2="18" stroke="#a0a0a0"/>
<line x1="55.5" y1="0" x2="55.5" y2="18" stroke="#ffffff"/>
<path d="M64.5,-1 L73,-1 L76.5,2 L76.5,12.5 L64.5,12.5 Z" fill="#fff" stroke="#888"/>
<line x1="66" y1="3.5" x2="71" y2="3.5" stroke="#888"/><line x1="66" y1="6.5" x2="73" y2="6.5" stroke="#888"/><line x1="66" y1="9.5" x2="70" y2="9.5" stroke="#888"/>
<path d="M66,11 h14 M73,4.5 v12.5" stroke="#149a14" stroke-width="4.6"/>
<path d="M67,11 h12 M73,5.5 v10.5" stroke="#3ad83a" stroke-width="2.6"/>
<path d="M85.5,0 v1 M82,1.5 h7 M83.5,2.5 l0.5,1 M87.5,2.5 l-0.5,1 M82,4.5 h7 M82,6.5 h7 M85.5,4.5 v6.5 M85,8 l-3,2.5 M86,8 l3,2 M97,0 l-5,1.5 M91.5,1.5 v4 l-1,5.5 M91.5,4.5 h6.5 M95.5,4.5 v6.5 M99,0.5 l1,1 M98,4.5 h2.5 v5.5 l1.5,-1.5 M102,1.5 h5.5 M105,1.5 v9 h-1.5 M110,0 l0.7,1.2 M115,0 l-0.7,1.2 M108.5,2.5 h8 v5 h-8 z M108.5,5 h8 M112.5,2.5 v8.5 M107.5,8.5 h11.5" fill="none" stroke="#111" stroke-width="1"/>
<path d="M131,9 L137,1 L147,6 L141,15 Z" fill="#e8b830" stroke="#a87810" stroke-width="1"/>
<path d="M133,9 L138,3 L145,6.5" fill="none" stroke="#f8e080" stroke-width="1"/>
<path d="M161.5,-1 h9 v8 h-9 z" fill="#3f8ee0" stroke="#2a62b0"/><line x1="163" y1="3.5" x2="169" y2="3.5" stroke="#cfe4fa"/>
<path d="M160,14.5 C156.5,14.5 156.5,10 160,10 C160.5,7 165,6.5 166.5,9 C168.5,7 173,8 172.5,11 C175.5,11 175.5,14.5 172.5,14.5 Z" fill="#f4f6fb" stroke="#8293b5" stroke-width="1.1"/>
<circle cx="195" cy="6.5" r="7" fill="none" stroke="#9ab4e4" stroke-width="1.1"/>
<circle cx="195" cy="6.5" r="4.2" fill="none" stroke="#7a9ad8" stroke-width="1.1"/>
<circle cx="195" cy="6.5" r="1.8" fill="#2a5fb8"/>
<path d="M195,7 L195,14.5 M195.5,14 A7.5,7.5 0 0 0 202,9" fill="none" stroke="#30b030" stroke-width="1.4"/>
<path d="M215,13 L214.5,5 L229.5,5 L226,14 Z" fill="#f2cc48" stroke="#c8a030" stroke-width="0.8"/>
<ellipse cx="222" cy="4.5" rx="7.5" ry="2.5" fill="#4aa0e0"/><path d="M218.5,4 C218.5,-1 225.5,-1 225.5,4 Z" fill="#6ab8ec"/>
<circle cx="227" cy="11.5" r="4.2" fill="#d42020"/><rect x="225.5" y="10" width="3" height="3" fill="#fff"/>
<path d="M240.5,0 l-1,1.2 M236.5,1.5 h9 v9 h-9 z M236.5,4.5 h9 M236.5,7.5 h9 M249,1.5 h4 M248,4.5 h6 M250.5,4.5 l-2,5 l5,-0.5 M252,7.5 l1.5,2 M253.5,3.5 h5 v7 h-1.5 M256,0 v3 l-2.5,7.5 M265,0 l0.6,1 M259.5,2.5 h11.5 M262.5,4 l-2.5,2 M268,4 l2.5,2 M262,6.5 l8.5,4 M268.5,6.5 l-9,4 M274.5,0 h7 v4.5 h-7 z M274.5,2.2 h7 M273.5,6 h8.5 l-0.5,4.5 M276.5,6 l-3.5,4 M279,7 l-3,3.5 M281,7.5 l-2.5,3" fill="none" stroke="#111" stroke-width="1"/>
<line x1="287.5" y1="0" x2="287.5" y2="18" stroke="#a0a0a0"/>
<line x1="288.5" y1="0" x2="288.5" y2="18" stroke="#ffffff"/>
<line x1="294" y1="1.5" x2="297" y2="1.5" stroke="#a8a8a8"/>
<line x1="294" y1="3.5" x2="297" y2="3.5" stroke="#a8a8a8"/>
<line x1="294" y1="5.5" x2="297" y2="5.5" stroke="#a8a8a8"/>
<line x1="294" y1="7.5" x2="297" y2="7.5" stroke="#a8a8a8"/>
<line x1="294" y1="9.5" x2="297" y2="9.5" stroke="#a8a8a8"/>
<line x1="294" y1="11.5" x2="297" y2="11.5" stroke="#a8a8a8"/>
<line x1="294" y1="13.5" x2="297" y2="13.5" stroke="#a8a8a8"/>
<line x1="294" y1="15.5" x2="297" y2="15.5" stroke="#a8a8a8"/>
<path d="M308.5,1 L308.5,14 M306,12.5 L321,12.5 M306.5,3 L308.5,0.5 L310.5,3 M319,10.5 L321.5,12.5 L319,14.5" fill="none" stroke="#5a5a5a" stroke-width="1"/>
<path d="M313.5,10 h2 v-6.5 h2" fill="none" stroke="#20a020" stroke-width="1.3"/>
<line x1="328.5" y1="0" x2="328.5" y2="18" stroke="#a0a0a0"/>
<line x1="329.5" y1="0" x2="329.5" y2="18" stroke="#ffffff"/>
<rect x="330" y="0" width="22" height="18" fill="#f9f9f9"/>
<path d="M336.5,1 L336.5,14 M334,12.5 L349,12.5 M334.5,3 L336.5,0.5 L338.5,3 M347,10.5 L349.5,12.5 L347,14.5" fill="none" stroke="#5a5a5a" stroke-width="1"/>
<line x1="342.5" y1="0" x2="342.5" y2="10" stroke="#189018"/><rect x="340" y="1" width="5" height="7" fill="#30d030" stroke="#189018" stroke-width="0.8"/>
<path d="M364.5,1 L364.5,14 M362,12.5 L377,12.5 M362.5,3 L364.5,0.5 L366.5,3 M375,10.5 L377.5,12.5 L375,14.5" fill="none" stroke="#5a5a5a" stroke-width="1"/>
<path d="M363,9.5 Q368,1 375,7.5" fill="none" stroke="#30a030" stroke-width="1.2"/>
<line x1="385.5" y1="0" x2="385.5" y2="18" stroke="#a0a0a0"/>
<line x1="386.5" y1="0" x2="386.5" y2="18" stroke="#ffffff"/>
<line x1="403.5" y1="8" x2="408.5" y2="14" stroke="#c8a020" stroke-width="2.5"/>
<circle cx="400.5" cy="4.5" r="5" fill="#dcecfa" stroke="#4a8ad8" stroke-width="1.4"/>
<line x1="397.5" y1="4.5" x2="403.5" y2="4.5" stroke="#2a6ac0" stroke-width="1.6"/>
<line x1="400.5" y1="1.5" x2="400.5" y2="7.5" stroke="#2a6ac0" stroke-width="1.6"/>
<line x1="431.5" y1="8" x2="436.5" y2="14" stroke="#c8a020" stroke-width="2.5"/>
<circle cx="428.5" cy="4.5" r="5" fill="#dcecfa" stroke="#4a8ad8" stroke-width="1.4"/>
<line x1="425.5" y1="4.5" x2="431.5" y2="4.5" stroke="#2a6ac0" stroke-width="1.6"/>
<rect x="450" y="-1" width="8" height="7" fill="#3aaa3a"/><rect x="458" y="-1" width="8" height="7" fill="#3a6ad0"/>
<rect x="450" y="6.5" width="8" height="8" fill="#3a6ad0"/><rect x="458" y="6.5" width="8" height="8" fill="#3aaa3a"/>
<rect x="452" y="2" width="5" height="2" fill="#e8f0ff"/>
<rect x="460" y="2" width="5" height="2" fill="#e8f0ff"/>
<rect x="452" y="10" width="5" height="2" fill="#e8f0ff"/>
<rect x="460" y="10" width="5" height="2" fill="#e8f0ff"/>
<line x1="474.5" y1="0" x2="474.5" y2="18" stroke="#a0a0a0"/>
<line x1="475.5" y1="0" x2="475.5" y2="18" stroke="#ffffff"/>
<line x1="479.5" y1="0" x2="479.5" y2="18" stroke="#a0a0a0"/>
<line x1="480.5" y1="0" x2="480.5" y2="18" stroke="#ffffff"/>
<rect x="481" y="0" width="24" height="18" fill="#f9f9f9"/>
<path d="M488.5,1 L488.5,14 M486,12.5 L501,12.5 M486.5,3 L488.5,0.5 L490.5,3 M499,10.5 L501.5,12.5 L499,14.5" fill="none" stroke="#5a5a5a" stroke-width="1"/>
<polygon points="493,2.5 497.5,5.5 493,8.5" fill="none" stroke="#20a020" stroke-width="1.3"/>
<line x1="507.5" y1="0" x2="507.5" y2="18" stroke="#a0a0a0"/>
<line x1="508.5" y1="0" x2="508.5" y2="18" stroke="#ffffff"/>
<rect x="509" y="0" width="24" height="18" fill="#f9f9f9"/>
<path d="M516.5,1 L516.5,14 M514,12.5 L529,12.5 M514.5,3 L516.5,0.5 L518.5,3 M527,10.5 L529.5,12.5 L527,14.5" fill="none" stroke="#5a5a5a" stroke-width="1"/>
<line x1="522.5" y1="1" x2="522.5" y2="10.5" stroke="#2a6ac0" stroke-width="1.2"/><path d="M528,6.5 h-4 M526,4.5 l-2,2 l2,2" fill="none" stroke="#e06020" stroke-width="1.3"/>
<line x1="536.5" y1="0" x2="536.5" y2="18" stroke="#a0a0a0"/>
<line x1="537.5" y1="0" x2="537.5" y2="18" stroke="#ffffff"/>
<path d="M547.5,-1 L555,-1 L558.5,2 L558.5,12 L547.5,12 Z" fill="#fff" stroke="#888"/>
<path d="M551,9.5 h11 M556.5,4.5 v11.5" stroke="#22c022" stroke-width="3.2"/>
<polygon points="568,6 574,6 571,9.5" fill="#000"/>
<circle cx="593" cy="6.5" r="7.5" fill="#1a68c8"/><circle cx="593" cy="6.5" r="5" fill="#e8f0fa"/>
<path d="M593,3 v3.5 h2.5" fill="none" stroke="#333" stroke-width="1"/>
<polygon points="607,6 613,6 610,9.5" fill="#000"/>
<rect x="624.5" y="-1" width="16" height="14" fill="#fff" stroke="#3a70c0"/><rect x="625" y="-1" width="15" height="2.5" fill="#4a80d0"/>
<path d="M627,5 l3,-1 l3,1 l3,-1 l2,0.5" fill="none" stroke="#c03020" stroke-width="1"/><line x1="625" y1="7.5" x2="640" y2="7.5" stroke="#3a70c0"/><path d="M627,11 l3,-1.5 l3,1 l3,-1.5 l2,1" fill="none" stroke="#20a020" stroke-width="1"/>
<polygon points="645,6 651,6 648,9.5" fill="#000"/>
<line x1="657.5" y1="0" x2="657.5" y2="18" stroke="#a0a0a0"/>
<line x1="658.5" y1="0" x2="658.5" y2="18" stroke="#ffffff"/>
<line x1="662" y1="1.5" x2="665" y2="1.5" stroke="#a8a8a8"/>
<line x1="662" y1="3.5" x2="665" y2="3.5" stroke="#a8a8a8"/>
<line x1="662" y1="5.5" x2="665" y2="5.5" stroke="#a8a8a8"/>
<line x1="662" y1="7.5" x2="665" y2="7.5" stroke="#a8a8a8"/>
<line x1="662" y1="9.5" x2="665" y2="9.5" stroke="#a8a8a8"/>
<line x1="662" y1="11.5" x2="665" y2="11.5" stroke="#a8a8a8"/>
<line x1="662" y1="13.5" x2="665" y2="13.5" stroke="#a8a8a8"/>
<line x1="662" y1="15.5" x2="665" y2="15.5" stroke="#a8a8a8"/>
<line x1="667.5" y1="0" x2="667.5" y2="18" stroke="#a0a0a0"/>
<line x1="668.5" y1="0" x2="668.5" y2="18" stroke="#ffffff"/>
<rect x="669" y="0" width="24" height="18" fill="#f9f9f9"/>
<path d="M676,0 L684,7 L680.5,7.3 L682.5,12 L680.8,12.7 L678.8,8 L676,10 Z" fill="#555"/>
<path d="M701,7.5 h15 M708.5,0 v15" stroke="#555" stroke-width="1.2"/>
<line x1="724.5" y1="0" x2="724.5" y2="18" stroke="#a0a0a0"/>
<line x1="725.5" y1="0" x2="725.5" y2="18" stroke="#ffffff"/>
<line x1="742.5" y1="1" x2="742.5" y2="14" stroke="#555" stroke-width="1.2"/>
<line x1="765" y1="7.5" x2="777" y2="7.5" stroke="#555" stroke-width="1.2"/>
<line x1="793" y1="14" x2="805" y2="2" stroke="#555" stroke-width="1.2"/>
<path d="M819,13 L830,2 M822,13.5 L833,3 M820,8 l3,3 M823,5 l3,3 M826,2 l3,3" fill="none" stroke="#555" stroke-width="1"/>
<text x="830" y="16" font-family="Liberation Sans" font-size="6" font-weight="bold" fill="#444">E</text>
<line x1="848" y1="1.5" x2="861" y2="1.5" stroke="#666" stroke-dasharray="1,1"/>
<line x1="848" y1="3.5" x2="861" y2="3.5" stroke="#666" stroke-dasharray="1,1"/>
<line x1="848" y1="7.5" x2="861" y2="7.5" stroke="#666" stroke-dasharray="1,1"/>
<line x1="848" y1="11.5" x2="861" y2="11.5" stroke="#666" stroke-dasharray="1,1"/>
<text x="857.5" y="16.5" font-family="Liberation Sans" font-size="6" font-weight="bold" fill="#444">F</text>
<text x="878.5" y="12" font-family="Liberation Sans" font-size="11" font-weight="bold" fill="#555">A</text>
<rect x="904.5" y="1.5" width="12" height="12" fill="none" stroke="#555" stroke-dasharray="1,1"/>
<text x="906.5" y="11.5" font-family="Liberation Sans" font-size="10" font-weight="bold" fill="#555">T</text>
<path d="M932,3 l2,-2 l2,2 l-2,2 z M943,10 l2,-2 l2,2 l-2,2 z" fill="#444"/><path d="M934,7 l2,2 l4,-4" fill="none" stroke="#444" stroke-width="1.4"/>
<polygon points="953,6 959,6 956,9.5" fill="#000"/>
<line x1="964.5" y1="0" x2="964.5" y2="18" stroke="#a0a0a0"/>
<line x1="965.5" y1="0" x2="965.5" y2="18" stroke="#ffffff"/>
<line x1="969" y1="1.5" x2="972" y2="1.5" stroke="#a8a8a8"/>
<line x1="969" y1="3.5" x2="972" y2="3.5" stroke="#a8a8a8"/>
<line x1="969" y1="5.5" x2="972" y2="5.5" stroke="#a8a8a8"/>
<line x1="969" y1="7.5" x2="972" y2="7.5" stroke="#a8a8a8"/>
<line x1="969" y1="9.5" x2="972" y2="9.5" stroke="#a8a8a8"/>
<line x1="969" y1="11.5" x2="972" y2="11.5" stroke="#a8a8a8"/>
<line x1="969" y1="13.5" x2="972" y2="13.5" stroke="#a8a8a8"/>
<line x1="969" y1="15.5" x2="972" y2="15.5" stroke="#a8a8a8"/>
<text x="979.5" y="11.2" font-family="Liberation Sans" font-size="9.4" fill="#3c3c3c" textLength="12.7" lengthAdjust="spacingAndGlyphs">M1</text>
<text x="1007.5" y="11.2" font-family="Liberation Sans" font-size="9.4" fill="#3c3c3c" textLength="13" lengthAdjust="spacingAndGlyphs">M5</text>
<text x="1033" y="11.2" font-family="Liberation Sans" font-size="9.4" fill="#3c3c3c" textLength="18" lengthAdjust="spacingAndGlyphs">M15</text>
<text x="1061" y="11.2" font-family="Liberation Sans" font-size="9.4" fill="#3c3c3c" textLength="18" lengthAdjust="spacingAndGlyphs">M30</text>
<text x="1092" y="11.2" font-family="Liberation Sans" font-size="9.4" fill="#3c3c3c" textLength="11.6" lengthAdjust="spacingAndGlyphs">H1</text>
<text x="1119" y="11.2" font-family="Liberation Sans" font-size="9.4" fill="#3c3c3c" textLength="12.7" lengthAdjust="spacingAndGlyphs">H4</text>
<rect x="1143" y="0" width="24" height="18" fill="#f9f9f9"/>
<text x="1148" y="11.2" font-family="Liberation Sans" font-size="9.4" fill="#3c3c3c" textLength="12" lengthAdjust="spacingAndGlyphs">D1</text>
<text x="1176" y="11.2" font-family="Liberation Sans" font-size="9.4" fill="#3c3c3c" textLength="14.2" lengthAdjust="spacingAndGlyphs">W1</text>
<text x="1202" y="11.2" font-family="Liberation Sans" font-size="9.4" fill="#3c3c3c" textLength="15.3" lengthAdjust="spacingAndGlyphs">MN</text>
<line x1="1141.5" y1="0" x2="1141.5" y2="18" stroke="#a0a0a0"/>
<line x1="1142.5" y1="0" x2="1142.5" y2="18" stroke="#ffffff"/>
<line x1="1225.5" y1="0" x2="1225.5" y2="18" stroke="#a0a0a0"/>
<line x1="1226.5" y1="0" x2="1226.5" y2="18" stroke="#ffffff"/>
<circle cx="1695.5" cy="4" r="4" fill="none" stroke="#2a62d0" stroke-width="1.6"/><line x1="1692.5" y1="7" x2="1688" y2="12" stroke="#2a62d0" stroke-width="2.4"/>
<ellipse cx="1728" cy="4" rx="6" ry="4.5" fill="#f0f0f6" stroke="#8a8a8a"/><ellipse cx="1720" cy="8" rx="5.5" ry="4" fill="#f0f0f6" stroke="#8a8a8a"/><path d="M1717,11.5 l-1,2.5 l3,-2" fill="#888"/>
<defs>
<linearGradient id="rg" x1="0" y1="0" x2="0" y2="1">
<stop offset="0" stop-color="#f85050"/><stop offset="0.35" stop-color="#e02828"/><stop offset="1" stop-color="#b00808"/>
</linearGradient>
<linearGradient id="rg2" x1="0" y1="0" x2="0" y2="1">
<stop offset="0" stop-color="#e83434"/><stop offset="1" stop-color="#b00404"/>
</linearGradient>
<linearGradient id="spin" x1="0" y1="0" x2="0" y2="1">
<stop offset="0" stop-color="#f4f4f4"/><stop offset="1" stop-color="#d6d6d6"/>
</linearGradient>
</defs>
<path d="M3,43 H55 V67 H112 V107 H3 Z" fill="url(#rg)"/>
<path d="M114,67 H170 V43 H222 V107 H114 Z" fill="url(#rg)"/>
<path d="M54.5,67 V43.5 H3.5 V106.5 H111.5 V67" fill="none" stroke="#a80000" stroke-width="1"/>
<path d="M114.5,67 V106.5 H221.5 V43.5 H170.5 V67" fill="none" stroke="#a80000" stroke-width="1"/>
<line x1="7" y1="66.5" x2="51" y2="66.5" stroke="#7a0000"/><line x1="7" y1="67.5" x2="51" y2="67.5" stroke="#f06060"/>
<line x1="174" y1="66.5" x2="218" y2="66.5" stroke="#7a0000"/><line x1="174" y1="67.5" x2="218" y2="67.5" stroke="#f06060"/>
<rect x="57.5" y="43.5" width="110" height="21" fill="#fff" stroke="#b4b8c4"/>
<rect x="58.5" y="44.5" width="19" height="19" fill="url(#spin)" stroke="#c8c8c8"/>
<rect x="146.5" y="44.5" width="20" height="19" fill="url(#spin)" stroke="#c8c8c8"/>
<polygon points="65.5,52 70.5,52 68,54.5" fill="#4a5aa8"/>
<polygon points="154,54.5 159,54.5 156.5,52" fill="#4a5aa8"/>
<text x="119.5" y="58" font-family='"Liberation Sans",sans-serif' font-size="12" fill="#000" textLength="23" lengthAdjust="spacingAndGlyphs">1.00</text>
<text x="15" y="59" font-family='"Liberation Sans",sans-serif' font-size="12" fill="#fff" textLength="26" lengthAdjust="spacingAndGlyphs">SELL</text>
<text x="183" y="59" font-family='"Liberation Sans",sans-serif' font-size="12" fill="#fff" textLength="23" lengthAdjust="spacingAndGlyphs">BUY</text>
<text x="23.5" y="97.5" font-family='"Liberation Sans",sans-serif' font-size="12" font-weight="bold" fill="#fff" textLength="23" lengthAdjust="spacingAndGlyphs">1.28</text>
<text x="133.5" y="97.5" font-family='"Liberation Sans",sans-serif' font-size="12" font-weight="bold" fill="#fff" textLength="23" lengthAdjust="spacingAndGlyphs">1.28</text>
<text x="51" y="98" font-family='"Liberation Serif",serif' font-size="36" fill="#fff" textLength="34" lengthAdjust="spacingAndGlyphs">06</text>
<text x="163" y="98" font-family='"Liberation Serif",serif' font-size="36" fill="#fff" textLength="33" lengthAdjust="spacingAndGlyphs">10</text>
<text x="90.5" y="81.5" font-family='"Liberation Sans",sans-serif' font-size="11" font-weight="bold" fill="#fff">3</text>
<text x="201" y="81.5" font-family='"Liberation Sans",sans-serif' font-size="11" font-weight="bold" fill="#fff">0</text>
<text x="15" y="35" class="t" xml:space="preserve" textLength="215" lengthAdjust="spacingAndGlyphs">GBPUSD-,Daily  1.29958 1.30341 1.27722 1.28063</text>
<text x="4" y="591" class="t" textLength="152" lengthAdjust="spacingAndGlyphs">MACD(12,26,9) -0.000752 0.006979</text>
<text x="4" y="763" class="t" textLength="68" lengthAdjust="spacingAndGlyphs">RSI(14) 32.6210</text>
</svg>
</body></html>
